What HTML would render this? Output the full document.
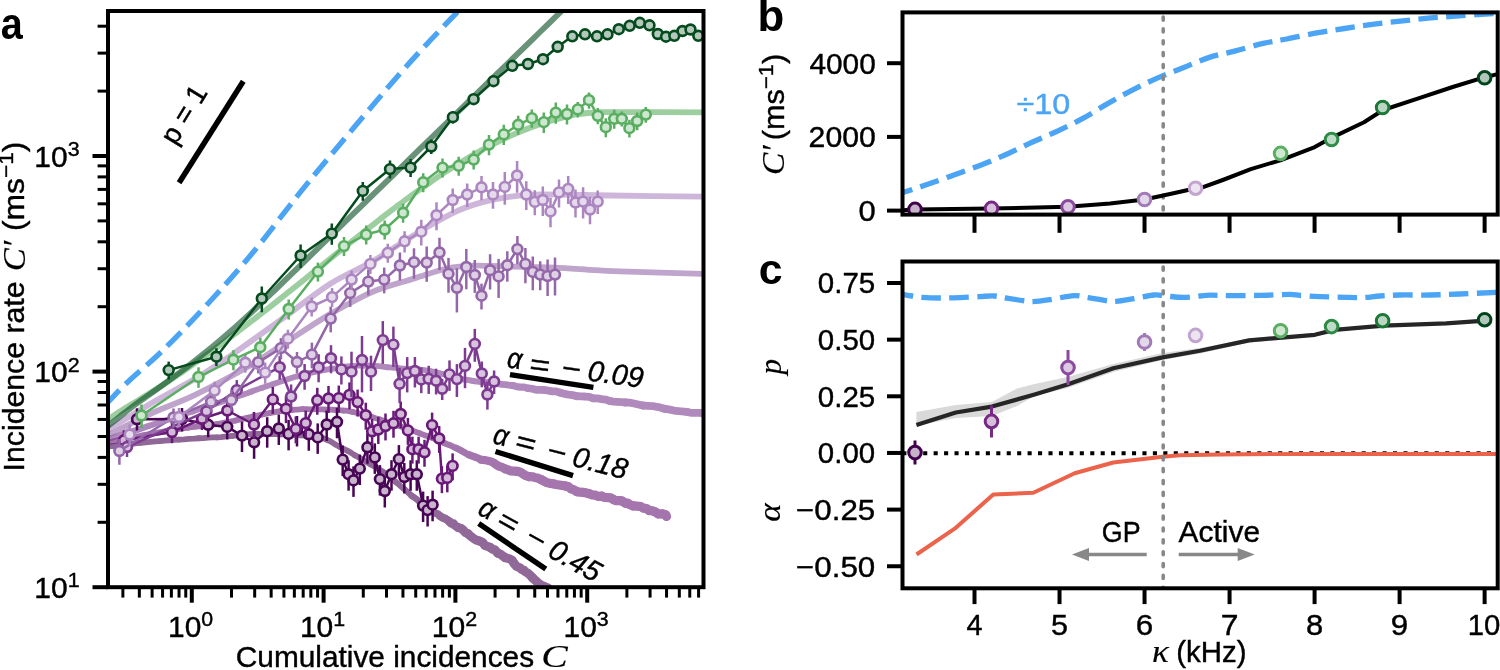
<!DOCTYPE html>
<html><head><meta charset="utf-8"><style>
html,body{margin:0;padding:0;background:#fff;}
svg{display:block;will-change:transform;}
text{stroke:#000;stroke-width:0.4px;}
</style></head><body>
<svg width="1500" height="670" viewBox="0 0 1500 670">
<rect width="1500" height="670" fill="#fff"/>
<clipPath id="clipa"><rect x="108.0" y="11.0" width="595.5" height="576.2"/></clipPath>
<g clip-path="url(#clipa)">
<path d="M108.00,402.00 C111.65,398.33 120.70,388.67 129.90,380.00 C139.10,371.33 150.02,362.92 163.20,350.00 C176.38,337.08 193.70,319.17 209.00,302.50 C224.30,285.83 238.33,270.17 255.00,250.00 C271.67,229.83 284.75,211.00 309.00,181.50 C333.25,152.00 375.62,101.42 400.50,73.00 C425.38,44.58 447.30,22.83 458.30,11.00 C469.30,-0.83 465.13,3.50 466.50,2.00" fill="none" stroke="#4ca4f5" stroke-width="5.33" stroke-dasharray="19.7 8.5" stroke-dashoffset="3"/>
<g opacity="0.6" stroke="#480555" fill="none" stroke-linecap="round" stroke-linejoin="round">
<path d="M108.00,446.50 L110.50,446.22 L113.61,445.99 L117.22,445.40 L121.29,444.90" stroke-width="5.80"/>
<path d="M121.29,444.90 L125.74,444.58 L130.45,444.08 L135.35,443.39 L140.37,442.83" stroke-width="5.80"/>
<path d="M140.37,442.83 L145.44,442.45 L150.45,441.90 L155.32,441.29 L160.00,441.04" stroke-width="5.80"/>
<path d="M160.00,441.04 L164.60,440.54 L169.34,440.25 L174.17,439.95 L179.05,439.60" stroke-width="5.80"/>
<path d="M179.05,439.60 L183.98,439.41 L188.90,438.95 L193.80,438.69 L198.64,438.27" stroke-width="5.80"/>
<path d="M198.64,438.27 L203.42,438.15 L208.06,437.73 L212.56,437.46 L216.91,437.28" stroke-width="5.80"/>
<path d="M216.91,437.28 L221.03,437.05 L224.94,436.52 L228.70,436.28 L232.33,435.98" stroke-width="5.80"/>
<path d="M232.33,435.98 L235.86,435.50 L239.37,435.21 L242.85,434.76 L246.38,434.38" stroke-width="5.80"/>
<path d="M246.38,434.38 L249.99,434.08 L253.72,433.90 L257.61,433.94 L261.70,433.89" stroke-width="5.80"/>
<path d="M261.70,433.89 L266.08,434.06 L270.77,434.20 L275.70,434.14 L280.79,434.27" stroke-width="5.80"/>
<path d="M280.79,434.27 L285.95,434.35 L291.11,434.68 L296.19,435.03 L301.11,435.40" stroke-width="5.80"/>
<path d="M301.11,435.40 L305.82,435.66 L310.19,436.17 L314.20,436.54 L317.70,437.22" stroke-width="5.80"/>
<path d="M317.70,437.22 L320.74,437.78 L323.40,438.31 L325.62,439.20 L327.55,440.04" stroke-width="5.80"/>
<path d="M327.55,440.04 L330.92,441.57 L333.72,443.42 L336.65,445.16 L339.99,447.03" stroke-width="5.80"/>
<path d="M339.99,447.03 L341.84,447.98 L343.68,449.03 L345.62,449.88 L347.54,450.81" stroke-width="5.80"/>
<path d="M347.54,450.81 L349.43,451.83 L351.27,452.94 L353.07,454.14 L354.90,455.29" stroke-width="5.80"/>
<path d="M354.90,455.29 L356.84,456.26 L358.65,457.44 L360.57,458.44 L362.50,459.43" stroke-width="5.80"/>
<path d="M362.50,459.43 L364.34,460.58 L366.17,461.82 L368.06,463.01 L370.04,464.05" stroke-width="5.80"/>
<path d="M370.04,464.05 L371.95,465.21 L373.96,466.20 L375.92,467.24 L377.71,468.52" stroke-width="5.80"/>
<path d="M377.71,468.52 L379.54,469.67 L381.41,470.69 L383.17,471.80 L384.78,473.03" stroke-width="5.80"/>
<path d="M384.78,473.03 L387.88,475.12 L390.55,477.22 L392.93,479.49 L395.52,481.69" stroke-width="5.80"/>
<path d="M395.52,481.69 L398.34,484.17 L399.91,485.52 L401.63,486.96 L403.55,488.47" stroke-width="5.84"/>
<path d="M403.55,488.47 L405.59,490.08 L407.58,491.98 L409.70,493.90 L411.85,495.93" stroke-width="6.04"/>
<path d="M411.85,495.93 L414.40,497.55 L416.88,499.32 L419.04,501.49 L421.52,503.23" stroke-width="6.45"/>
<path d="M421.52,503.23 L423.70,505.27 L426.17,506.81 L428.48,508.38 L430.63,510.14" stroke-width="6.99"/>
<path d="M430.63,510.14 L433.03,511.58 L435.40,513.12 L438.13,514.05 L440.16,516.11" stroke-width="7.59"/>
<path d="M440.16,516.11 L442.48,517.62 L445.06,518.57 L447.32,519.94 L449.37,521.48" stroke-width="8.16"/>
<path d="M449.37,521.48 L451.09,523.34 L453.67,523.54 L454.98,525.47 L458.12,527.57" stroke-width="8.60"/>
<path d="M458.12,527.57 L461.35,528.62 L463.62,530.37 L465.30,532.60 L467.96,533.65" stroke-width="8.93"/>
<path d="M467.96,533.65 L470.15,535.79 L472.83,537.85 L475.74,539.92 L479.35,541.01" stroke-width="9.00"/>
<path d="M479.35,541.01 L482.71,542.36 L484.82,545.43 L487.83,546.44 L490.39,547.51" stroke-width="9.00"/>
<path d="M490.39,547.51 L492.31,549.20 L494.73,549.62 L496.24,551.53 L497.87,553.16" stroke-width="9.00"/>
<path d="M497.87,553.16 L500.06,553.90 L501.79,555.27 L503.55,556.28 L505.04,557.68" stroke-width="9.00"/>
<path d="M505.04,557.68 L507.26,558.20 L509.68,558.92 L512.18,560.25 L514.02,563.37" stroke-width="9.00"/>
<path d="M514.02,563.37 L516.46,566.34 L520.18,567.98 L521.58,569.52 L523.68,570.13" stroke-width="9.00"/>
<path d="M523.68,570.13 L525.17,571.57 L526.95,572.56 L529.99,575.01 L532.57,577.88" stroke-width="9.00"/>
<path d="M532.57,577.88 L535.36,580.41 L538.16,582.90 L541.15,585.08 L544.52,586.65" stroke-width="9.00"/>
<path d="M544.52,586.65 L548.02,587.97 L550.72,590.71 L553.98,593.07 L556.19,593.43" stroke-width="9.00"/>
<path d="M556.19,593.43 L559.40,595.57 L562.62,596.94 L564.26,599.32 L565.00,600.00" stroke-width="9.00"/>
</g>
<g opacity="0.6" stroke="#691978" fill="none" stroke-linecap="round" stroke-linejoin="round">
<path d="M108.00,442.50 L111.13,441.76 L115.17,440.97 L119.92,439.94 L125.29,438.99" stroke-width="5.80"/>
<path d="M125.29,438.99 L131.09,437.83 L137.17,436.50 L143.41,435.18 L149.70,434.09" stroke-width="5.80"/>
<path d="M149.70,434.09 L155.82,432.84 L161.70,431.84 L167.14,430.88 L172.00,430.02" stroke-width="5.80"/>
<path d="M172.00,430.02 L176.40,429.39 L180.50,428.77 L184.38,428.23 L188.07,427.72" stroke-width="5.80"/>
<path d="M188.07,427.72 L191.63,427.24 L195.10,426.78 L198.55,426.43 L202.00,426.04" stroke-width="5.80"/>
<path d="M202.00,426.04 L205.53,425.72 L209.14,425.16 L212.91,424.60 L216.91,424.08" stroke-width="5.80"/>
<path d="M216.91,424.08 L221.15,423.32 L225.63,422.46 L230.30,421.53 L235.09,420.60" stroke-width="5.80"/>
<path d="M235.09,420.60 L239.89,419.42 L244.74,418.43 L249.48,417.24 L254.13,416.19" stroke-width="5.80"/>
<path d="M254.13,416.19 L258.61,415.30 L262.82,414.39 L266.74,413.62 L270.28,412.90" stroke-width="5.80"/>
<path d="M270.28,412.90 L273.43,412.31 L276.22,411.85 L278.73,411.48 L280.99,411.17" stroke-width="5.80"/>
<path d="M280.99,411.17 L283.06,410.84 L286.86,410.29 L290.64,410.05 L292.65,409.92" stroke-width="5.80"/>
<path d="M292.65,409.92 L294.82,409.73 L297.20,409.57 L299.78,409.33 L302.47,409.18" stroke-width="5.80"/>
<path d="M302.47,409.18 L305.25,409.06 L308.11,409.22 L311.00,409.30 L313.93,409.17" stroke-width="5.80"/>
<path d="M313.93,409.17 L316.85,409.29 L319.75,409.32 L322.61,409.46 L325.40,409.54" stroke-width="5.80"/>
<path d="M325.40,409.54 L328.11,409.62 L330.71,409.66 L333.15,409.76 L335.43,409.92" stroke-width="5.80"/>
<path d="M335.43,409.92 L337.58,410.13 L339.66,410.16 L341.69,410.31 L343.71,410.64" stroke-width="5.80"/>
<path d="M343.71,410.64 L345.79,410.71 L347.93,410.98 L350.16,411.45 L352.56,411.89" stroke-width="5.80"/>
<path d="M352.56,411.89 L355.14,412.52 L357.97,413.12 L361.06,413.89 L364.41,414.69" stroke-width="5.80"/>
<path d="M364.41,414.69 L367.94,415.69 L371.62,416.83 L375.38,418.12 L379.24,419.37" stroke-width="5.80"/>
<path d="M379.24,419.37 L383.15,420.58 L387.00,421.96 L390.83,423.24 L394.56,424.53" stroke-width="5.80"/>
<path d="M394.56,424.53 L398.19,425.62 L401.62,426.73 L404.85,427.89 L408.00,428.97" stroke-width="5.80"/>
<path d="M408.00,428.97 L411.07,429.98 L414.00,431.17 L416.90,432.32 L419.79,433.35" stroke-width="5.80"/>
<path d="M419.79,433.35 L422.64,434.48 L425.52,435.54 L428.43,436.56 L431.41,437.57" stroke-width="5.80"/>
<path d="M431.41,437.57 L434.36,438.77 L437.36,440.11 L440.46,441.37 L443.58,442.76" stroke-width="5.87"/>
<path d="M443.58,442.76 L446.80,444.06 L450.09,445.27 L453.28,446.79 L456.52,448.20" stroke-width="6.23"/>
<path d="M456.52,448.20 L459.70,449.75 L462.76,451.54 L465.86,453.21 L468.96,454.76" stroke-width="6.82"/>
<path d="M468.96,454.76 L472.16,456.00 L475.34,457.10 L478.44,458.22 L481.34,459.77" stroke-width="7.51"/>
<path d="M481.34,459.77 L484.67,460.09 L487.86,460.68 L490.94,461.47 L493.79,462.85" stroke-width="8.20"/>
<path d="M493.79,462.85 L496.40,464.87 L499.18,466.42 L502.20,467.26 L504.98,468.80" stroke-width="8.74"/>
<path d="M504.98,468.80 L507.97,469.78 L510.90,470.95 L514.18,471.14 L517.43,471.41" stroke-width="9.11"/>
<path d="M517.43,471.41 L520.51,472.15 L523.18,474.08 L525.96,475.68 L528.99,476.55" stroke-width="9.20"/>
<path d="M528.99,476.55 L532.25,476.72 L535.26,477.63 L538.33,478.34 L541.19,479.68" stroke-width="9.20"/>
<path d="M541.19,479.68 L544.01,481.17 L546.84,482.61 L549.88,483.41 L553.05,483.76" stroke-width="9.20"/>
<path d="M553.05,483.76 L556.13,484.42 L559.25,484.94 L562.37,485.44 L565.47,485.96" stroke-width="9.20"/>
<path d="M565.47,485.96 L568.49,486.77 L571.09,488.97 L574.06,489.92 L576.81,491.62" stroke-width="9.20"/>
<path d="M576.81,491.62 L579.88,492.16 L583.03,492.39 L586.14,492.83 L589.19,493.72" stroke-width="9.20"/>
<path d="M589.19,493.72 L592.22,494.84 L595.46,495.19 L598.48,496.42 L601.81,496.18" stroke-width="9.20"/>
<path d="M601.81,496.18 L604.76,497.47 L607.89,497.67 L610.92,497.92 L613.53,499.56" stroke-width="9.20"/>
<path d="M613.53,499.56 L616.13,500.67 L618.86,500.68 L621.46,500.59 L623.52,501.97" stroke-width="9.20"/>
<path d="M623.52,501.97 L625.44,503.35 L627.75,502.99 L629.43,504.47 L633.10,505.83" stroke-width="9.20"/>
<path d="M633.10,505.83 L637.00,506.20 L640.99,506.61 L642.74,507.89 L644.87,508.37" stroke-width="9.20"/>
<path d="M644.87,508.37 L647.14,508.85 L649.05,510.67 L651.64,510.67 L654.00,511.35" stroke-width="9.20"/>
<path d="M654.00,511.35 L656.16,512.45 L658.05,514.06 L660.47,513.81 L662.57,513.91" stroke-width="9.20"/>
<path d="M662.57,513.91 L665.81,514.72 L666.50,516.40" stroke-width="9.20"/>
</g>
<g opacity="0.6" stroke="#7d3c91" fill="none" stroke-linecap="round" stroke-linejoin="round">
<path d="M108.00,439.00 L111.13,438.01 L115.04,436.67 L119.69,435.22 L124.91,433.63" stroke-width="5.80"/>
<path d="M124.91,433.63 L130.51,431.68 L136.48,429.76 L142.64,427.75 L148.87,425.71" stroke-width="5.80"/>
<path d="M148.87,425.71 L155.11,423.80 L161.16,421.92 L166.91,420.07 L172.22,418.26" stroke-width="5.80"/>
<path d="M172.22,418.26 L177.36,416.63 L182.50,414.81 L187.71,413.11 L192.90,411.40" stroke-width="5.80"/>
<path d="M192.90,411.40 L198.03,409.62 L203.12,408.00 L208.07,406.35 L212.88,404.75" stroke-width="5.80"/>
<path d="M212.88,404.75 L217.50,403.16 L221.94,401.77 L226.09,400.31 L229.95,398.95" stroke-width="5.80"/>
<path d="M229.95,398.95 L233.54,397.88 L236.73,396.75 L239.67,395.77 L242.37,394.87" stroke-width="5.80"/>
<path d="M242.37,394.87 L244.89,394.01 L247.29,393.21 L249.55,392.27 L251.82,391.44" stroke-width="5.80"/>
<path d="M251.82,391.44 L254.09,390.55 L256.50,389.79 L258.99,388.87 L261.67,387.92" stroke-width="5.80"/>
<path d="M261.67,387.92 L264.50,386.93 L267.41,386.02 L270.35,385.00 L273.35,384.04" stroke-width="5.80"/>
<path d="M273.35,384.04 L276.34,383.00 L279.35,381.97 L282.38,380.96 L285.38,379.91" stroke-width="5.80"/>
<path d="M285.38,379.91 L288.37,378.92 L291.34,377.95 L294.27,377.03 L297.21,376.33" stroke-width="5.80"/>
<path d="M297.21,376.33 L300.07,375.56 L302.90,374.79 L305.72,374.09 L308.50,373.32" stroke-width="5.80"/>
<path d="M308.50,373.32 L311.31,372.76 L314.08,372.11 L316.83,371.46 L319.61,370.94" stroke-width="5.80"/>
<path d="M319.61,370.94 L322.37,370.38 L325.14,369.90 L327.90,369.32 L330.71,368.97" stroke-width="5.80"/>
<path d="M330.71,368.97 L333.51,368.58 L336.29,368.03 L339.09,367.63 L341.88,367.15" stroke-width="5.80"/>
<path d="M341.88,367.15 L344.67,366.74 L347.48,366.42 L350.28,366.10 L353.10,366.02" stroke-width="5.80"/>
<path d="M353.10,366.02 L355.90,365.82 L358.70,365.67 L361.50,365.61 L364.30,365.48" stroke-width="5.80"/>
<path d="M364.30,365.48 L367.11,365.50 L369.92,365.63 L372.73,365.79 L375.56,365.93" stroke-width="5.80"/>
<path d="M375.56,365.93 L378.39,366.09 L381.19,366.48 L383.99,366.87 L386.79,367.24" stroke-width="5.80"/>
<path d="M386.79,367.24 L389.60,367.40 L392.39,367.63 L395.16,367.86 L397.90,368.22" stroke-width="5.80"/>
<path d="M397.90,368.22 L400.63,368.40 L403.33,368.65 L406.03,368.85 L408.71,368.98" stroke-width="5.80"/>
<path d="M408.71,368.98 L411.38,369.06 L414.04,369.35 L416.70,369.52 L419.35,369.76" stroke-width="5.80"/>
<path d="M419.35,369.76 L422.01,369.89 L424.67,370.22 L427.32,370.63 L430.00,371.00" stroke-width="5.80"/>
<path d="M430.00,371.00 L432.67,371.48 L435.29,372.14 L437.92,372.76 L440.54,373.48" stroke-width="5.80"/>
<path d="M440.54,373.48 L443.17,374.17 L445.83,374.83 L448.45,375.64 L451.11,376.44" stroke-width="5.80"/>
<path d="M451.11,376.44 L453.78,377.22 L456.52,377.88 L459.27,378.59 L462.08,379.22" stroke-width="5.82"/>
<path d="M462.08,379.22 L464.94,379.58 L467.79,379.95 L470.61,380.52 L473.45,381.03" stroke-width="5.94"/>
<path d="M473.45,381.03 L476.33,381.47 L479.29,381.61 L482.23,382.18 L485.29,382.29" stroke-width="6.15"/>
<path d="M485.29,382.29 L488.41,382.50 L491.57,383.06 L494.82,383.64 L498.24,383.74" stroke-width="6.44"/>
<path d="M498.24,383.74 L501.68,384.47 L505.30,384.66 L508.97,385.20 L512.74,385.60" stroke-width="6.81"/>
<path d="M512.74,385.60 L516.50,386.57 L520.38,387.08 L524.37,387.18 L528.24,388.34" stroke-width="7.21"/>
<path d="M528.24,388.34 L532.25,388.75 L536.16,389.85 L540.24,389.84 L544.29,389.99" stroke-width="7.56"/>
<path d="M544.29,389.99 L548.29,390.57 L552.30,391.32 L556.44,391.49 L560.46,392.67" stroke-width="7.77"/>
<path d="M560.46,392.67 L564.49,393.88 L568.62,394.57 L572.78,395.12 L576.87,396.19" stroke-width="7.80"/>
<path d="M576.87,396.19 L581.08,396.44 L585.32,396.51 L589.48,396.97 L593.48,398.35" stroke-width="7.80"/>
<path d="M593.48,398.35 L597.63,398.39 L601.63,399.04 L605.62,399.54 L609.45,400.88" stroke-width="7.80"/>
<path d="M609.45,400.88 L613.39,401.54 L617.39,401.89 L621.45,402.16 L625.55,402.50" stroke-width="7.80"/>
<path d="M625.55,402.50 L629.74,402.70 L633.95,403.51 L638.25,404.51 L642.68,405.51" stroke-width="7.80"/>
<path d="M642.68,405.51 L647.55,405.89 L652.89,406.21 L658.48,407.02 L664.17,408.67" stroke-width="7.80"/>
<path d="M664.17,408.67 L670.02,409.67 L675.79,410.94 L681.49,411.43 L686.89,411.90" stroke-width="7.80"/>
<path d="M686.89,411.90 L691.79,412.94 L696.30,412.78 L700.09,412.89 L703.08,413.02" stroke-width="7.80"/>
<path d="M703.08,413.02 L703.00,413.60" stroke-width="7.80"/>
</g>
<path d="M108.00,435.50 C115.00,431.92 135.57,420.72 150.00,414.00 C164.43,407.28 178.22,403.10 194.60,395.20 C210.98,387.30 233.23,375.30 248.30,366.60 C263.37,357.90 272.25,351.23 285.00,343.00 C297.75,334.77 313.20,324.25 324.80,317.20 C336.40,310.15 345.90,305.23 354.60,300.70 C363.30,296.17 367.05,293.72 377.00,290.00 C386.95,286.28 402.65,281.98 414.30,278.40 C425.95,274.82 437.00,270.63 446.90,268.50 C456.80,266.37 462.52,265.92 473.70,265.60 C484.88,265.28 500.57,266.27 514.00,266.60 C527.43,266.93 540.87,267.00 554.30,267.60 C567.73,268.20 583.65,269.58 594.60,270.20 C605.55,270.82 601.93,270.70 620.00,271.30 C638.07,271.90 689.17,273.38 703.00,273.80" fill="none" stroke="#9467a9" stroke-opacity="0.6" stroke-width="5.8" stroke-linecap="round"/>
<path d="M108.00,430.00 C115.00,425.67 135.57,412.50 150.00,404.00 C164.43,395.50 181.20,387.03 194.60,379.00 C208.00,370.97 216.08,365.63 230.40,355.80 C244.72,345.97 263.90,331.97 280.50,320.00 C297.10,308.03 314.78,293.70 330.00,284.00 C345.22,274.30 359.62,268.82 371.80,261.80 C383.98,254.78 393.40,247.95 403.10,241.90 C412.80,235.85 420.83,230.72 430.00,225.50 C439.17,220.28 449.18,214.53 458.10,210.60 C467.02,206.67 475.05,204.20 483.50,201.90 C491.95,199.60 500.35,198.02 508.80,196.80 C517.25,195.58 523.62,194.93 534.20,194.60 C544.78,194.27 559.62,194.65 572.30,194.80 C584.98,194.95 588.52,195.20 610.30,195.50 C632.08,195.80 687.55,196.42 703.00,196.60" fill="none" stroke="#ac86c0" stroke-opacity="0.6" stroke-width="5.8" stroke-linecap="round"/>
<path d="M108.00,419.50 C110.00,418.17 116.00,414.08 120.00,411.50 C124.00,408.92 128.00,406.45 132.00,404.00 C136.00,401.55 140.00,399.25 144.00,396.80 C148.00,394.35 152.00,391.83 156.00,389.30 C160.00,386.77 164.00,384.23 168.00,381.60 C172.00,378.97 176.00,376.23 180.00,373.50 C184.00,370.77 188.00,368.00 192.00,365.20 C196.00,362.40 200.00,359.57 204.00,356.70 C208.00,353.83 212.00,350.93 216.00,348.00 C220.00,345.07 224.00,342.10 228.00,339.10 C232.00,336.10 236.00,333.05 240.00,330.00 C244.00,326.95 248.00,323.88 252.00,320.80 C256.00,317.72 260.00,314.62 264.00,311.50 C268.00,308.38 272.00,305.27 276.00,302.10 C280.00,298.93 284.00,295.68 288.00,292.50 C292.00,289.32 296.00,286.20 300.00,283.00 C304.00,279.80 308.00,276.52 312.00,273.30 C316.00,270.08 320.00,266.90 324.00,263.70 C328.00,260.50 332.00,257.30 336.00,254.10 C340.00,250.90 344.00,247.70 348.00,244.50 C352.00,241.30 356.00,238.07 360.00,234.90 C364.00,231.73 368.00,228.63 372.00,225.50 C376.00,222.37 380.00,219.18 384.00,216.10 C388.00,213.02 392.00,210.02 396.00,207.00 C400.00,203.98 404.00,200.93 408.00,198.00 C412.00,195.07 416.00,192.23 420.00,189.40 C424.00,186.57 428.00,183.75 432.00,181.00 C436.00,178.25 440.00,175.52 444.00,172.90 C448.00,170.28 452.00,167.78 456.00,165.30 C460.00,162.82 464.00,160.37 468.00,158.00 C472.00,155.63 476.00,153.32 480.00,151.10 C484.00,148.88 488.00,146.75 492.00,144.70 C496.00,142.65 500.00,140.68 504.00,138.80 C508.00,136.92 512.00,135.12 516.00,133.40 C520.00,131.68 524.00,130.03 528.00,128.50 C532.00,126.97 536.00,125.55 540.00,124.20 C544.00,122.85 548.00,121.58 552.00,120.40 C556.00,119.22 560.00,118.08 564.00,117.10 C568.00,116.12 572.00,115.18 576.00,114.50 C580.00,113.82 584.00,113.37 588.00,113.00 C592.00,112.63 594.67,112.45 600.00,112.30 C605.33,112.15 602.83,112.10 620.00,112.10 C637.17,112.10 689.17,112.27 703.00,112.30" fill="none" stroke="#5aae61" stroke-opacity="0.6" stroke-width="5.8" stroke-linecap="round"/>
<path d="M108.00,426.00 C110.00,424.42 116.00,419.67 120.00,416.50 C124.00,413.33 128.00,410.03 132.00,407.00 C136.00,403.97 140.00,401.15 144.00,398.30 C148.00,395.45 152.00,392.75 156.00,389.90 C160.00,387.05 164.00,384.13 168.00,381.20 C172.00,378.27 176.00,375.32 180.00,372.30 C184.00,369.28 188.00,366.22 192.00,363.10 C196.00,359.98 200.00,356.82 204.00,353.60 C208.00,350.38 212.00,347.15 216.00,343.80 C220.00,340.45 224.00,337.00 228.00,333.50 C232.00,330.00 236.00,326.42 240.00,322.80 C244.00,319.18 248.00,315.52 252.00,311.80 C256.00,308.08 260.00,304.28 264.00,300.50 C268.00,296.72 272.00,292.95 276.00,289.10 C280.00,285.25 284.00,281.28 288.00,277.40 C292.00,273.52 294.00,271.63 300.00,265.80 C306.00,259.97 316.00,250.20 324.00,242.40 C332.00,234.60 340.00,226.78 348.00,219.00 C356.00,211.22 364.00,203.48 372.00,195.70 C380.00,187.92 388.00,180.10 396.00,172.30 C404.00,164.50 412.00,156.70 420.00,148.90 C428.00,141.10 436.00,133.30 444.00,125.50 C452.00,117.70 460.00,109.90 468.00,102.10 C476.00,94.30 484.00,86.48 492.00,78.70 C500.00,70.92 508.00,63.18 516.00,55.40 C524.00,47.62 532.00,39.80 540.00,32.00 C548.00,24.20 559.00,13.47 564.00,8.60 C569.00,3.73 569.00,3.77 570.00,2.80" fill="none" stroke="#054b1e" stroke-opacity="0.6" stroke-width="5.8" stroke-linecap="round"/>
<polyline points="137.00,419.30 182.00,419.00 208.20,424.80 227.20,426.90 242.00,435.60 254.10,442.30 267.20,431.20 278.80,428.50 288.60,433.90 297.00,430.00 308.80,434.30 317.70,437.40 326.70,424.50 337.00,421.80 342.70,459.60 348.60,474.20 353.50,480.40 359.80,468.60 367.40,447.30 374.80,457.40 379.90,479.10 384.80,491.00 391.50,474.20 398.90,459.10 404.30,477.00 410.60,474.30 416.80,474.30 423.10,505.60 427.60,510.10 432.60,504.70" fill="none" stroke="#480555" stroke-width="2.5" stroke-linejoin="round" stroke-linecap="butt" />
<line x1="137.00" y1="408.30" x2="137.00" y2="431.77" stroke="#480555" stroke-width="2.5" />
<line x1="182.00" y1="408.00" x2="182.00" y2="431.47" stroke="#480555" stroke-width="2.5" />
<line x1="208.20" y1="413.80" x2="208.20" y2="437.27" stroke="#480555" stroke-width="2.5" />
<line x1="227.20" y1="415.90" x2="227.20" y2="439.37" stroke="#480555" stroke-width="2.5" />
<line x1="242.00" y1="421.60" x2="242.00" y2="452.07" stroke="#480555" stroke-width="2.5" />
<line x1="254.10" y1="428.30" x2="254.10" y2="458.77" stroke="#480555" stroke-width="2.5" />
<line x1="267.20" y1="417.20" x2="267.20" y2="447.67" stroke="#480555" stroke-width="2.5" />
<line x1="278.80" y1="414.50" x2="278.80" y2="444.97" stroke="#480555" stroke-width="2.5" />
<line x1="288.60" y1="419.90" x2="288.60" y2="450.37" stroke="#480555" stroke-width="2.5" />
<line x1="297.00" y1="416.00" x2="297.00" y2="446.47" stroke="#480555" stroke-width="2.5" />
<line x1="308.80" y1="420.30" x2="308.80" y2="450.77" stroke="#480555" stroke-width="2.5" />
<line x1="317.70" y1="423.40" x2="317.70" y2="453.87" stroke="#480555" stroke-width="2.5" />
<line x1="326.70" y1="410.50" x2="326.70" y2="440.97" stroke="#480555" stroke-width="2.5" />
<line x1="337.00" y1="407.80" x2="337.00" y2="438.27" stroke="#480555" stroke-width="2.5" />
<line x1="342.70" y1="445.60" x2="342.70" y2="476.07" stroke="#480555" stroke-width="2.5" />
<line x1="348.60" y1="460.20" x2="348.60" y2="490.67" stroke="#480555" stroke-width="2.5" />
<line x1="353.50" y1="466.40" x2="353.50" y2="496.87" stroke="#480555" stroke-width="2.5" />
<line x1="359.80" y1="454.60" x2="359.80" y2="485.07" stroke="#480555" stroke-width="2.5" />
<line x1="367.40" y1="433.30" x2="367.40" y2="463.77" stroke="#480555" stroke-width="2.5" />
<line x1="374.80" y1="443.40" x2="374.80" y2="473.87" stroke="#480555" stroke-width="2.5" />
<line x1="379.90" y1="465.10" x2="379.90" y2="495.57" stroke="#480555" stroke-width="2.5" />
<line x1="384.80" y1="477.00" x2="384.80" y2="507.47" stroke="#480555" stroke-width="2.5" />
<line x1="391.50" y1="460.20" x2="391.50" y2="490.67" stroke="#480555" stroke-width="2.5" />
<line x1="398.90" y1="445.10" x2="398.90" y2="475.57" stroke="#480555" stroke-width="2.5" />
<line x1="404.30" y1="463.00" x2="404.30" y2="493.47" stroke="#480555" stroke-width="2.5" />
<line x1="410.60" y1="460.30" x2="410.60" y2="490.77" stroke="#480555" stroke-width="2.5" />
<line x1="416.80" y1="460.30" x2="416.80" y2="490.77" stroke="#480555" stroke-width="2.5" />
<line x1="423.10" y1="491.60" x2="423.10" y2="522.07" stroke="#480555" stroke-width="2.5" />
<line x1="427.60" y1="496.10" x2="427.60" y2="526.57" stroke="#480555" stroke-width="2.5" />
<line x1="432.60" y1="490.70" x2="432.60" y2="521.17" stroke="#480555" stroke-width="2.5" />
<circle cx="137.00" cy="419.30" r="4.9" fill="#c8b4cc" stroke="#480555" stroke-width="2.65"/>
<circle cx="182.00" cy="419.00" r="4.9" fill="#c8b4cc" stroke="#480555" stroke-width="2.65"/>
<circle cx="208.20" cy="424.80" r="4.9" fill="#c8b4cc" stroke="#480555" stroke-width="2.65"/>
<circle cx="227.20" cy="426.90" r="4.9" fill="#c8b4cc" stroke="#480555" stroke-width="2.65"/>
<circle cx="242.00" cy="435.60" r="4.9" fill="#c8b4cc" stroke="#480555" stroke-width="2.65"/>
<circle cx="254.10" cy="442.30" r="4.9" fill="#c8b4cc" stroke="#480555" stroke-width="2.65"/>
<circle cx="267.20" cy="431.20" r="4.9" fill="#c8b4cc" stroke="#480555" stroke-width="2.65"/>
<circle cx="278.80" cy="428.50" r="4.9" fill="#c8b4cc" stroke="#480555" stroke-width="2.65"/>
<circle cx="288.60" cy="433.90" r="4.9" fill="#c8b4cc" stroke="#480555" stroke-width="2.65"/>
<circle cx="297.00" cy="430.00" r="4.9" fill="#c8b4cc" stroke="#480555" stroke-width="2.65"/>
<circle cx="308.80" cy="434.30" r="4.9" fill="#c8b4cc" stroke="#480555" stroke-width="2.65"/>
<circle cx="317.70" cy="437.40" r="4.9" fill="#c8b4cc" stroke="#480555" stroke-width="2.65"/>
<circle cx="326.70" cy="424.50" r="4.9" fill="#c8b4cc" stroke="#480555" stroke-width="2.65"/>
<circle cx="337.00" cy="421.80" r="4.9" fill="#c8b4cc" stroke="#480555" stroke-width="2.65"/>
<circle cx="342.70" cy="459.60" r="4.9" fill="#c8b4cc" stroke="#480555" stroke-width="2.65"/>
<circle cx="348.60" cy="474.20" r="4.9" fill="#c8b4cc" stroke="#480555" stroke-width="2.65"/>
<circle cx="353.50" cy="480.40" r="4.9" fill="#c8b4cc" stroke="#480555" stroke-width="2.65"/>
<circle cx="359.80" cy="468.60" r="4.9" fill="#c8b4cc" stroke="#480555" stroke-width="2.65"/>
<circle cx="367.40" cy="447.30" r="4.9" fill="#c8b4cc" stroke="#480555" stroke-width="2.65"/>
<circle cx="374.80" cy="457.40" r="4.9" fill="#c8b4cc" stroke="#480555" stroke-width="2.65"/>
<circle cx="379.90" cy="479.10" r="4.9" fill="#c8b4cc" stroke="#480555" stroke-width="2.65"/>
<circle cx="384.80" cy="491.00" r="4.9" fill="#c8b4cc" stroke="#480555" stroke-width="2.65"/>
<circle cx="391.50" cy="474.20" r="4.9" fill="#c8b4cc" stroke="#480555" stroke-width="2.65"/>
<circle cx="398.90" cy="459.10" r="4.9" fill="#c8b4cc" stroke="#480555" stroke-width="2.65"/>
<circle cx="404.30" cy="477.00" r="4.9" fill="#c8b4cc" stroke="#480555" stroke-width="2.65"/>
<circle cx="410.60" cy="474.30" r="4.9" fill="#c8b4cc" stroke="#480555" stroke-width="2.65"/>
<circle cx="416.80" cy="474.30" r="4.9" fill="#c8b4cc" stroke="#480555" stroke-width="2.65"/>
<circle cx="423.10" cy="505.60" r="4.9" fill="#c8b4cc" stroke="#480555" stroke-width="2.65"/>
<circle cx="427.60" cy="510.10" r="4.9" fill="#c8b4cc" stroke="#480555" stroke-width="2.65"/>
<circle cx="432.60" cy="504.70" r="4.9" fill="#c8b4cc" stroke="#480555" stroke-width="2.65"/>
<polyline points="123.90,440.30 172.00,432.00 202.00,418.80 227.30,410.50 254.00,424.50 272.80,399.40 286.00,408.70 295.80,428.90 305.70,423.10 317.30,400.30 328.50,398.50 338.80,398.10 349.50,394.90 357.60,402.10 365.80,415.20 372.10,431.30 378.30,429.50 385.50,426.00 393.50,423.30 400.70,414.00 407.90,430.40 412.40,449.20 418.60,449.20 424.50,452.30 432.10,425.10 439.20,438.50 441.90,478.70 447.30,477.90 452.60,465.90" fill="none" stroke="#691978" stroke-width="2.5" stroke-linejoin="round" stroke-linecap="butt" />
<line x1="123.90" y1="430.30" x2="123.90" y2="451.50" stroke="#691978" stroke-width="2.5" />
<line x1="172.00" y1="422.00" x2="172.00" y2="443.20" stroke="#691978" stroke-width="2.5" />
<line x1="202.00" y1="408.80" x2="202.00" y2="430.00" stroke="#691978" stroke-width="2.5" />
<line x1="227.30" y1="400.50" x2="227.30" y2="421.70" stroke="#691978" stroke-width="2.5" />
<line x1="254.00" y1="412.00" x2="254.00" y2="438.93" stroke="#691978" stroke-width="2.5" />
<line x1="272.80" y1="386.90" x2="272.80" y2="413.83" stroke="#691978" stroke-width="2.5" />
<line x1="286.00" y1="396.20" x2="286.00" y2="423.13" stroke="#691978" stroke-width="2.5" />
<line x1="295.80" y1="416.40" x2="295.80" y2="443.33" stroke="#691978" stroke-width="2.5" />
<line x1="305.70" y1="410.60" x2="305.70" y2="437.53" stroke="#691978" stroke-width="2.5" />
<line x1="317.30" y1="387.80" x2="317.30" y2="414.73" stroke="#691978" stroke-width="2.5" />
<line x1="328.50" y1="386.00" x2="328.50" y2="412.93" stroke="#691978" stroke-width="2.5" />
<line x1="338.80" y1="385.60" x2="338.80" y2="412.53" stroke="#691978" stroke-width="2.5" />
<line x1="349.50" y1="382.40" x2="349.50" y2="409.33" stroke="#691978" stroke-width="2.5" />
<line x1="357.60" y1="389.60" x2="357.60" y2="416.53" stroke="#691978" stroke-width="2.5" />
<line x1="365.80" y1="402.70" x2="365.80" y2="429.63" stroke="#691978" stroke-width="2.5" />
<line x1="372.10" y1="418.80" x2="372.10" y2="445.73" stroke="#691978" stroke-width="2.5" />
<line x1="378.30" y1="417.00" x2="378.30" y2="443.93" stroke="#691978" stroke-width="2.5" />
<line x1="385.50" y1="413.50" x2="385.50" y2="440.43" stroke="#691978" stroke-width="2.5" />
<line x1="393.50" y1="410.80" x2="393.50" y2="437.73" stroke="#691978" stroke-width="2.5" />
<line x1="400.70" y1="401.50" x2="400.70" y2="428.43" stroke="#691978" stroke-width="2.5" />
<line x1="407.90" y1="417.90" x2="407.90" y2="444.83" stroke="#691978" stroke-width="2.5" />
<line x1="412.40" y1="436.70" x2="412.40" y2="463.63" stroke="#691978" stroke-width="2.5" />
<line x1="418.60" y1="436.70" x2="418.60" y2="463.63" stroke="#691978" stroke-width="2.5" />
<line x1="424.50" y1="439.80" x2="424.50" y2="466.73" stroke="#691978" stroke-width="2.5" />
<line x1="432.10" y1="412.60" x2="432.10" y2="439.53" stroke="#691978" stroke-width="2.5" />
<line x1="439.20" y1="426.00" x2="439.20" y2="452.93" stroke="#691978" stroke-width="2.5" />
<line x1="441.90" y1="466.20" x2="441.90" y2="493.13" stroke="#691978" stroke-width="2.5" />
<line x1="447.30" y1="465.40" x2="447.30" y2="492.33" stroke="#691978" stroke-width="2.5" />
<line x1="452.60" y1="453.40" x2="452.60" y2="480.33" stroke="#691978" stroke-width="2.5" />
<circle cx="123.90" cy="440.30" r="4.9" fill="#d2bad6" stroke="#691978" stroke-width="2.65"/>
<circle cx="172.00" cy="432.00" r="4.9" fill="#d2bad6" stroke="#691978" stroke-width="2.65"/>
<circle cx="202.00" cy="418.80" r="4.9" fill="#d2bad6" stroke="#691978" stroke-width="2.65"/>
<circle cx="227.30" cy="410.50" r="4.9" fill="#d2bad6" stroke="#691978" stroke-width="2.65"/>
<circle cx="254.00" cy="424.50" r="4.9" fill="#d2bad6" stroke="#691978" stroke-width="2.65"/>
<circle cx="272.80" cy="399.40" r="4.9" fill="#d2bad6" stroke="#691978" stroke-width="2.65"/>
<circle cx="286.00" cy="408.70" r="4.9" fill="#d2bad6" stroke="#691978" stroke-width="2.65"/>
<circle cx="295.80" cy="428.90" r="4.9" fill="#d2bad6" stroke="#691978" stroke-width="2.65"/>
<circle cx="305.70" cy="423.10" r="4.9" fill="#d2bad6" stroke="#691978" stroke-width="2.65"/>
<circle cx="317.30" cy="400.30" r="4.9" fill="#d2bad6" stroke="#691978" stroke-width="2.65"/>
<circle cx="328.50" cy="398.50" r="4.9" fill="#d2bad6" stroke="#691978" stroke-width="2.65"/>
<circle cx="338.80" cy="398.10" r="4.9" fill="#d2bad6" stroke="#691978" stroke-width="2.65"/>
<circle cx="349.50" cy="394.90" r="4.9" fill="#d2bad6" stroke="#691978" stroke-width="2.65"/>
<circle cx="357.60" cy="402.10" r="4.9" fill="#d2bad6" stroke="#691978" stroke-width="2.65"/>
<circle cx="365.80" cy="415.20" r="4.9" fill="#d2bad6" stroke="#691978" stroke-width="2.65"/>
<circle cx="372.10" cy="431.30" r="4.9" fill="#d2bad6" stroke="#691978" stroke-width="2.65"/>
<circle cx="378.30" cy="429.50" r="4.9" fill="#d2bad6" stroke="#691978" stroke-width="2.65"/>
<circle cx="385.50" cy="426.00" r="4.9" fill="#d2bad6" stroke="#691978" stroke-width="2.65"/>
<circle cx="393.50" cy="423.30" r="4.9" fill="#d2bad6" stroke="#691978" stroke-width="2.65"/>
<circle cx="400.70" cy="414.00" r="4.9" fill="#d2bad6" stroke="#691978" stroke-width="2.65"/>
<circle cx="407.90" cy="430.40" r="4.9" fill="#d2bad6" stroke="#691978" stroke-width="2.65"/>
<circle cx="412.40" cy="449.20" r="4.9" fill="#d2bad6" stroke="#691978" stroke-width="2.65"/>
<circle cx="418.60" cy="449.20" r="4.9" fill="#d2bad6" stroke="#691978" stroke-width="2.65"/>
<circle cx="424.50" cy="452.30" r="4.9" fill="#d2bad6" stroke="#691978" stroke-width="2.65"/>
<circle cx="432.10" cy="425.10" r="4.9" fill="#d2bad6" stroke="#691978" stroke-width="2.65"/>
<circle cx="439.20" cy="438.50" r="4.9" fill="#d2bad6" stroke="#691978" stroke-width="2.65"/>
<circle cx="441.90" cy="478.70" r="4.9" fill="#d2bad6" stroke="#691978" stroke-width="2.65"/>
<circle cx="447.30" cy="477.90" r="4.9" fill="#d2bad6" stroke="#691978" stroke-width="2.65"/>
<circle cx="452.60" cy="465.90" r="4.9" fill="#d2bad6" stroke="#691978" stroke-width="2.65"/>
<polyline points="127.00,447.00 206.50,411.30 236.80,390.10 279.70,367.20 291.10,396.50 304.60,376.00 318.60,367.20 331.00,358.20 341.40,369.40 351.50,371.70 362.00,360.00 371.00,371.70 382.80,340.10 393.40,344.60 399.60,383.80 407.20,373.10 414.90,371.00 421.30,379.40 428.70,378.80 436.10,380.70 442.20,388.80 449.50,374.40 456.90,379.10 465.00,365.90 474.80,343.90 481.80,373.50 487.40,394.50 494.10,381.50" fill="none" stroke="#7d3c91" stroke-width="2.5" stroke-linejoin="round" stroke-linecap="butt" />
<line x1="127.00" y1="438.00" x2="127.00" y2="456.96" stroke="#7d3c91" stroke-width="2.5" />
<line x1="206.50" y1="401.30" x2="206.50" y2="422.50" stroke="#7d3c91" stroke-width="2.5" />
<line x1="236.80" y1="380.10" x2="236.80" y2="401.30" stroke="#7d3c91" stroke-width="2.5" />
<line x1="279.70" y1="356.20" x2="279.70" y2="379.67" stroke="#7d3c91" stroke-width="2.5" />
<line x1="291.10" y1="384.50" x2="291.10" y2="410.27" stroke="#7d3c91" stroke-width="2.5" />
<line x1="304.60" y1="364.00" x2="304.60" y2="389.77" stroke="#7d3c91" stroke-width="2.5" />
<line x1="318.60" y1="354.20" x2="318.60" y2="382.30" stroke="#7d3c91" stroke-width="2.5" />
<line x1="331.00" y1="345.20" x2="331.00" y2="373.30" stroke="#7d3c91" stroke-width="2.5" />
<line x1="341.40" y1="356.40" x2="341.40" y2="384.50" stroke="#7d3c91" stroke-width="2.5" />
<line x1="351.50" y1="351.70" x2="351.50" y2="397.17" stroke="#7d3c91" stroke-width="2.5" />
<line x1="362.00" y1="336.00" x2="362.00" y2="392.35" stroke="#7d3c91" stroke-width="2.5" />
<line x1="371.00" y1="355.70" x2="371.00" y2="391.01" stroke="#7d3c91" stroke-width="2.5" />
<line x1="382.80" y1="321.10" x2="382.80" y2="363.96" stroke="#7d3c91" stroke-width="2.5" />
<line x1="393.40" y1="326.60" x2="393.40" y2="366.90" stroke="#7d3c91" stroke-width="2.5" />
<line x1="399.60" y1="367.80" x2="399.60" y2="403.11" stroke="#7d3c91" stroke-width="2.5" />
<line x1="407.20" y1="357.10" x2="407.20" y2="392.41" stroke="#7d3c91" stroke-width="2.5" />
<line x1="414.90" y1="357.00" x2="414.90" y2="387.47" stroke="#7d3c91" stroke-width="2.5" />
<line x1="421.30" y1="367.40" x2="421.30" y2="393.17" stroke="#7d3c91" stroke-width="2.5" />
<line x1="428.70" y1="365.80" x2="428.70" y2="393.90" stroke="#7d3c91" stroke-width="2.5" />
<line x1="436.10" y1="368.70" x2="436.10" y2="394.47" stroke="#7d3c91" stroke-width="2.5" />
<line x1="442.20" y1="378.80" x2="442.20" y2="400.00" stroke="#7d3c91" stroke-width="2.5" />
<line x1="449.50" y1="360.40" x2="449.50" y2="390.87" stroke="#7d3c91" stroke-width="2.5" />
<line x1="456.90" y1="364.10" x2="456.90" y2="396.97" stroke="#7d3c91" stroke-width="2.5" />
<line x1="465.00" y1="347.90" x2="465.00" y2="388.20" stroke="#7d3c91" stroke-width="2.5" />
<line x1="474.80" y1="328.90" x2="474.80" y2="361.77" stroke="#7d3c91" stroke-width="2.5" />
<line x1="481.80" y1="361.50" x2="481.80" y2="387.27" stroke="#7d3c91" stroke-width="2.5" />
<line x1="487.40" y1="381.50" x2="487.40" y2="409.60" stroke="#7d3c91" stroke-width="2.5" />
<line x1="494.10" y1="370.50" x2="494.10" y2="393.97" stroke="#7d3c91" stroke-width="2.5" />
<circle cx="127.00" cy="447.00" r="4.9" fill="#d8c4de" stroke="#7d3c91" stroke-width="2.65"/>
<circle cx="206.50" cy="411.30" r="4.9" fill="#d8c4de" stroke="#7d3c91" stroke-width="2.65"/>
<circle cx="236.80" cy="390.10" r="4.9" fill="#d8c4de" stroke="#7d3c91" stroke-width="2.65"/>
<circle cx="279.70" cy="367.20" r="4.9" fill="#d8c4de" stroke="#7d3c91" stroke-width="2.65"/>
<circle cx="291.10" cy="396.50" r="4.9" fill="#d8c4de" stroke="#7d3c91" stroke-width="2.65"/>
<circle cx="304.60" cy="376.00" r="4.9" fill="#d8c4de" stroke="#7d3c91" stroke-width="2.65"/>
<circle cx="318.60" cy="367.20" r="4.9" fill="#d8c4de" stroke="#7d3c91" stroke-width="2.65"/>
<circle cx="331.00" cy="358.20" r="4.9" fill="#d8c4de" stroke="#7d3c91" stroke-width="2.65"/>
<circle cx="341.40" cy="369.40" r="4.9" fill="#d8c4de" stroke="#7d3c91" stroke-width="2.65"/>
<circle cx="351.50" cy="371.70" r="4.9" fill="#d8c4de" stroke="#7d3c91" stroke-width="2.65"/>
<circle cx="362.00" cy="360.00" r="4.9" fill="#d8c4de" stroke="#7d3c91" stroke-width="2.65"/>
<circle cx="371.00" cy="371.70" r="4.9" fill="#d8c4de" stroke="#7d3c91" stroke-width="2.65"/>
<circle cx="382.80" cy="340.10" r="4.9" fill="#d8c4de" stroke="#7d3c91" stroke-width="2.65"/>
<circle cx="393.40" cy="344.60" r="4.9" fill="#d8c4de" stroke="#7d3c91" stroke-width="2.65"/>
<circle cx="399.60" cy="383.80" r="4.9" fill="#d8c4de" stroke="#7d3c91" stroke-width="2.65"/>
<circle cx="407.20" cy="373.10" r="4.9" fill="#d8c4de" stroke="#7d3c91" stroke-width="2.65"/>
<circle cx="414.90" cy="371.00" r="4.9" fill="#d8c4de" stroke="#7d3c91" stroke-width="2.65"/>
<circle cx="421.30" cy="379.40" r="4.9" fill="#d8c4de" stroke="#7d3c91" stroke-width="2.65"/>
<circle cx="428.70" cy="378.80" r="4.9" fill="#d8c4de" stroke="#7d3c91" stroke-width="2.65"/>
<circle cx="436.10" cy="380.70" r="4.9" fill="#d8c4de" stroke="#7d3c91" stroke-width="2.65"/>
<circle cx="442.20" cy="388.80" r="4.9" fill="#d8c4de" stroke="#7d3c91" stroke-width="2.65"/>
<circle cx="449.50" cy="374.40" r="4.9" fill="#d8c4de" stroke="#7d3c91" stroke-width="2.65"/>
<circle cx="456.90" cy="379.10" r="4.9" fill="#d8c4de" stroke="#7d3c91" stroke-width="2.65"/>
<circle cx="465.00" cy="365.90" r="4.9" fill="#d8c4de" stroke="#7d3c91" stroke-width="2.65"/>
<circle cx="474.80" cy="343.90" r="4.9" fill="#d8c4de" stroke="#7d3c91" stroke-width="2.65"/>
<circle cx="481.80" cy="373.50" r="4.9" fill="#d8c4de" stroke="#7d3c91" stroke-width="2.65"/>
<circle cx="487.40" cy="394.50" r="4.9" fill="#d8c4de" stroke="#7d3c91" stroke-width="2.65"/>
<circle cx="494.10" cy="381.50" r="4.9" fill="#d8c4de" stroke="#7d3c91" stroke-width="2.65"/>
<polyline points="119.40,451.00 173.50,417.50 211.10,401.80 231.40,400.00 258.20,362.20 280.90,348.10 297.00,362.00 311.90,354.60 330.70,318.60 350.20,293.10 368.30,281.60 384.20,279.60 399.90,265.50 414.00,262.20 426.70,262.50 439.50,252.50 448.50,273.70 456.90,287.80 466.30,267.00 474.80,275.00 481.50,295.70 490.10,270.20 498.60,276.40 507.30,265.20 517.40,249.10 525.40,263.90 532.80,271.90 540.20,274.60 547.60,276.00 555.00,274.60" fill="none" stroke="#9467a9" stroke-width="2.5" stroke-linejoin="round" stroke-linecap="butt" />
<line x1="119.40" y1="439.00" x2="119.40" y2="464.77" stroke="#9467a9" stroke-width="2.5" />
<line x1="173.50" y1="408.50" x2="173.50" y2="427.46" stroke="#9467a9" stroke-width="2.5" />
<line x1="211.10" y1="392.80" x2="211.10" y2="411.76" stroke="#9467a9" stroke-width="2.5" />
<line x1="231.40" y1="390.00" x2="231.40" y2="411.20" stroke="#9467a9" stroke-width="2.5" />
<line x1="258.20" y1="352.20" x2="258.20" y2="373.40" stroke="#9467a9" stroke-width="2.5" />
<line x1="280.90" y1="338.10" x2="280.90" y2="359.30" stroke="#9467a9" stroke-width="2.5" />
<line x1="297.00" y1="352.00" x2="297.00" y2="373.20" stroke="#9467a9" stroke-width="2.5" />
<line x1="311.90" y1="342.60" x2="311.90" y2="368.37" stroke="#9467a9" stroke-width="2.5" />
<line x1="330.70" y1="306.60" x2="330.70" y2="332.37" stroke="#9467a9" stroke-width="2.5" />
<line x1="350.20" y1="281.10" x2="350.20" y2="306.87" stroke="#9467a9" stroke-width="2.5" />
<line x1="368.30" y1="269.60" x2="368.30" y2="295.37" stroke="#9467a9" stroke-width="2.5" />
<line x1="384.20" y1="267.60" x2="384.20" y2="293.37" stroke="#9467a9" stroke-width="2.5" />
<line x1="399.90" y1="252.50" x2="399.90" y2="280.60" stroke="#9467a9" stroke-width="2.5" />
<line x1="414.00" y1="248.20" x2="414.00" y2="278.67" stroke="#9467a9" stroke-width="2.5" />
<line x1="426.70" y1="246.50" x2="426.70" y2="281.81" stroke="#9467a9" stroke-width="2.5" />
<line x1="439.50" y1="237.70" x2="439.50" y2="270.09" stroke="#9467a9" stroke-width="2.5" />
<line x1="448.50" y1="257.90" x2="448.50" y2="292.72" stroke="#9467a9" stroke-width="2.5" />
<line x1="456.90" y1="268.30" x2="456.90" y2="312.46" stroke="#9467a9" stroke-width="2.5" />
<line x1="466.30" y1="249.00" x2="466.30" y2="289.30" stroke="#9467a9" stroke-width="2.5" />
<line x1="474.80" y1="260.00" x2="474.80" y2="292.87" stroke="#9467a9" stroke-width="2.5" />
<line x1="481.50" y1="283.70" x2="481.50" y2="309.47" stroke="#9467a9" stroke-width="2.5" />
<line x1="490.10" y1="254.20" x2="490.10" y2="289.51" stroke="#9467a9" stroke-width="2.5" />
<line x1="498.60" y1="258.90" x2="498.60" y2="297.94" stroke="#9467a9" stroke-width="2.5" />
<line x1="507.30" y1="251.20" x2="507.30" y2="281.67" stroke="#9467a9" stroke-width="2.5" />
<line x1="517.40" y1="236.10" x2="517.40" y2="264.20" stroke="#9467a9" stroke-width="2.5" />
<line x1="525.40" y1="247.90" x2="525.40" y2="283.21" stroke="#9467a9" stroke-width="2.5" />
<line x1="532.80" y1="256.50" x2="532.80" y2="290.34" stroke="#9467a9" stroke-width="2.5" />
<line x1="540.20" y1="261.20" x2="540.20" y2="290.24" stroke="#9467a9" stroke-width="2.5" />
<line x1="547.60" y1="259.50" x2="547.60" y2="296.04" stroke="#9467a9" stroke-width="2.5" />
<line x1="555.00" y1="257.60" x2="555.00" y2="295.39" stroke="#9467a9" stroke-width="2.5" />
<circle cx="119.40" cy="451.00" r="4.9" fill="#dfd1e5" stroke="#9467a9" stroke-width="2.65"/>
<circle cx="173.50" cy="417.50" r="4.9" fill="#dfd1e5" stroke="#9467a9" stroke-width="2.65"/>
<circle cx="211.10" cy="401.80" r="4.9" fill="#dfd1e5" stroke="#9467a9" stroke-width="2.65"/>
<circle cx="231.40" cy="400.00" r="4.9" fill="#dfd1e5" stroke="#9467a9" stroke-width="2.65"/>
<circle cx="258.20" cy="362.20" r="4.9" fill="#dfd1e5" stroke="#9467a9" stroke-width="2.65"/>
<circle cx="280.90" cy="348.10" r="4.9" fill="#dfd1e5" stroke="#9467a9" stroke-width="2.65"/>
<circle cx="297.00" cy="362.00" r="4.9" fill="#dfd1e5" stroke="#9467a9" stroke-width="2.65"/>
<circle cx="311.90" cy="354.60" r="4.9" fill="#dfd1e5" stroke="#9467a9" stroke-width="2.65"/>
<circle cx="330.70" cy="318.60" r="4.9" fill="#dfd1e5" stroke="#9467a9" stroke-width="2.65"/>
<circle cx="350.20" cy="293.10" r="4.9" fill="#dfd1e5" stroke="#9467a9" stroke-width="2.65"/>
<circle cx="368.30" cy="281.60" r="4.9" fill="#dfd1e5" stroke="#9467a9" stroke-width="2.65"/>
<circle cx="384.20" cy="279.60" r="4.9" fill="#dfd1e5" stroke="#9467a9" stroke-width="2.65"/>
<circle cx="399.90" cy="265.50" r="4.9" fill="#dfd1e5" stroke="#9467a9" stroke-width="2.65"/>
<circle cx="414.00" cy="262.20" r="4.9" fill="#dfd1e5" stroke="#9467a9" stroke-width="2.65"/>
<circle cx="426.70" cy="262.50" r="4.9" fill="#dfd1e5" stroke="#9467a9" stroke-width="2.65"/>
<circle cx="439.50" cy="252.50" r="4.9" fill="#dfd1e5" stroke="#9467a9" stroke-width="2.65"/>
<circle cx="448.50" cy="273.70" r="4.9" fill="#dfd1e5" stroke="#9467a9" stroke-width="2.65"/>
<circle cx="456.90" cy="287.80" r="4.9" fill="#dfd1e5" stroke="#9467a9" stroke-width="2.65"/>
<circle cx="466.30" cy="267.00" r="4.9" fill="#dfd1e5" stroke="#9467a9" stroke-width="2.65"/>
<circle cx="474.80" cy="275.00" r="4.9" fill="#dfd1e5" stroke="#9467a9" stroke-width="2.65"/>
<circle cx="481.50" cy="295.70" r="4.9" fill="#dfd1e5" stroke="#9467a9" stroke-width="2.65"/>
<circle cx="490.10" cy="270.20" r="4.9" fill="#dfd1e5" stroke="#9467a9" stroke-width="2.65"/>
<circle cx="498.60" cy="276.40" r="4.9" fill="#dfd1e5" stroke="#9467a9" stroke-width="2.65"/>
<circle cx="507.30" cy="265.20" r="4.9" fill="#dfd1e5" stroke="#9467a9" stroke-width="2.65"/>
<circle cx="517.40" cy="249.10" r="4.9" fill="#dfd1e5" stroke="#9467a9" stroke-width="2.65"/>
<circle cx="525.40" cy="263.90" r="4.9" fill="#dfd1e5" stroke="#9467a9" stroke-width="2.65"/>
<circle cx="532.80" cy="271.90" r="4.9" fill="#dfd1e5" stroke="#9467a9" stroke-width="2.65"/>
<circle cx="540.20" cy="274.60" r="4.9" fill="#dfd1e5" stroke="#9467a9" stroke-width="2.65"/>
<circle cx="547.60" cy="276.00" r="4.9" fill="#dfd1e5" stroke="#9467a9" stroke-width="2.65"/>
<circle cx="555.00" cy="274.60" r="4.9" fill="#dfd1e5" stroke="#9467a9" stroke-width="2.65"/>
<polyline points="129.70,434.50 179.00,417.00 214.60,390.60 245.30,362.70 265.20,372.60 287.90,338.70 311.70,306.50 332.10,297.10 351.60,279.60 370.40,263.90 387.80,252.80 404.60,241.30 421.30,231.70 436.50,215.20 452.70,200.00 467.20,194.50 481.50,187.30 493.00,194.50 504.80,186.90 517.10,175.50 526.30,194.50 534.80,201.90 542.80,200.00 550.50,211.40 559.00,192.40 568.20,188.90 575.50,202.50 583.10,201.60 590.00,209.50 597.70,201.60" fill="none" stroke="#ac86c0" stroke-width="2.5" stroke-linejoin="round" stroke-linecap="butt" />
<line x1="129.70" y1="424.50" x2="129.70" y2="445.70" stroke="#ac86c0" stroke-width="2.5" />
<line x1="179.00" y1="408.00" x2="179.00" y2="426.96" stroke="#ac86c0" stroke-width="2.5" />
<line x1="214.60" y1="381.60" x2="214.60" y2="400.56" stroke="#ac86c0" stroke-width="2.5" />
<line x1="245.30" y1="353.70" x2="245.30" y2="372.66" stroke="#ac86c0" stroke-width="2.5" />
<line x1="265.20" y1="362.60" x2="265.20" y2="383.80" stroke="#ac86c0" stroke-width="2.5" />
<line x1="287.90" y1="329.70" x2="287.90" y2="348.66" stroke="#ac86c0" stroke-width="2.5" />
<line x1="311.70" y1="297.50" x2="311.70" y2="316.46" stroke="#ac86c0" stroke-width="2.5" />
<line x1="332.10" y1="288.10" x2="332.10" y2="307.06" stroke="#ac86c0" stroke-width="2.5" />
<line x1="351.60" y1="270.60" x2="351.60" y2="289.56" stroke="#ac86c0" stroke-width="2.5" />
<line x1="370.40" y1="254.90" x2="370.40" y2="273.86" stroke="#ac86c0" stroke-width="2.5" />
<line x1="387.80" y1="243.80" x2="387.80" y2="262.76" stroke="#ac86c0" stroke-width="2.5" />
<line x1="404.60" y1="231.30" x2="404.60" y2="252.50" stroke="#ac86c0" stroke-width="2.5" />
<line x1="421.30" y1="219.70" x2="421.30" y2="245.47" stroke="#ac86c0" stroke-width="2.5" />
<line x1="436.50" y1="202.20" x2="436.50" y2="230.30" stroke="#ac86c0" stroke-width="2.5" />
<line x1="452.70" y1="188.60" x2="452.70" y2="212.98" stroke="#ac86c0" stroke-width="2.5" />
<line x1="467.20" y1="183.50" x2="467.20" y2="206.97" stroke="#ac86c0" stroke-width="2.5" />
<line x1="481.50" y1="175.90" x2="481.50" y2="200.28" stroke="#ac86c0" stroke-width="2.5" />
<line x1="493.00" y1="182.10" x2="493.00" y2="208.80" stroke="#ac86c0" stroke-width="2.5" />
<line x1="504.80" y1="172.00" x2="504.80" y2="204.63" stroke="#ac86c0" stroke-width="2.5" />
<line x1="517.10" y1="160.90" x2="517.10" y2="192.80" stroke="#ac86c0" stroke-width="2.5" />
<line x1="526.30" y1="181.20" x2="526.30" y2="210.01" stroke="#ac86c0" stroke-width="2.5" />
<line x1="534.80" y1="190.20" x2="534.80" y2="215.27" stroke="#ac86c0" stroke-width="2.5" />
<line x1="542.80" y1="186.40" x2="542.80" y2="215.92" stroke="#ac86c0" stroke-width="2.5" />
<line x1="550.50" y1="197.80" x2="550.50" y2="227.32" stroke="#ac86c0" stroke-width="2.5" />
<line x1="559.00" y1="179.40" x2="559.00" y2="207.50" stroke="#ac86c0" stroke-width="2.5" />
<line x1="568.20" y1="175.90" x2="568.20" y2="204.00" stroke="#ac86c0" stroke-width="2.5" />
<line x1="575.50" y1="189.50" x2="575.50" y2="217.60" stroke="#ac86c0" stroke-width="2.5" />
<line x1="583.10" y1="187.30" x2="583.10" y2="218.48" stroke="#ac86c0" stroke-width="2.5" />
<line x1="590.00" y1="196.80" x2="590.00" y2="224.20" stroke="#ac86c0" stroke-width="2.5" />
<line x1="597.70" y1="190.60" x2="597.70" y2="214.07" stroke="#ac86c0" stroke-width="2.5" />
<circle cx="129.70" cy="434.50" r="4.9" fill="#e6dbec" stroke="#ac86c0" stroke-width="2.65"/>
<circle cx="179.00" cy="417.00" r="4.9" fill="#e6dbec" stroke="#ac86c0" stroke-width="2.65"/>
<circle cx="214.60" cy="390.60" r="4.9" fill="#e6dbec" stroke="#ac86c0" stroke-width="2.65"/>
<circle cx="245.30" cy="362.70" r="4.9" fill="#e6dbec" stroke="#ac86c0" stroke-width="2.65"/>
<circle cx="265.20" cy="372.60" r="4.9" fill="#e6dbec" stroke="#ac86c0" stroke-width="2.65"/>
<circle cx="287.90" cy="338.70" r="4.9" fill="#e6dbec" stroke="#ac86c0" stroke-width="2.65"/>
<circle cx="311.70" cy="306.50" r="4.9" fill="#e6dbec" stroke="#ac86c0" stroke-width="2.65"/>
<circle cx="332.10" cy="297.10" r="4.9" fill="#e6dbec" stroke="#ac86c0" stroke-width="2.65"/>
<circle cx="351.60" cy="279.60" r="4.9" fill="#e6dbec" stroke="#ac86c0" stroke-width="2.65"/>
<circle cx="370.40" cy="263.90" r="4.9" fill="#e6dbec" stroke="#ac86c0" stroke-width="2.65"/>
<circle cx="387.80" cy="252.80" r="4.9" fill="#e6dbec" stroke="#ac86c0" stroke-width="2.65"/>
<circle cx="404.60" cy="241.30" r="4.9" fill="#e6dbec" stroke="#ac86c0" stroke-width="2.65"/>
<circle cx="421.30" cy="231.70" r="4.9" fill="#e6dbec" stroke="#ac86c0" stroke-width="2.65"/>
<circle cx="436.50" cy="215.20" r="4.9" fill="#e6dbec" stroke="#ac86c0" stroke-width="2.65"/>
<circle cx="452.70" cy="200.00" r="4.9" fill="#e6dbec" stroke="#ac86c0" stroke-width="2.65"/>
<circle cx="467.20" cy="194.50" r="4.9" fill="#e6dbec" stroke="#ac86c0" stroke-width="2.65"/>
<circle cx="481.50" cy="187.30" r="4.9" fill="#e6dbec" stroke="#ac86c0" stroke-width="2.65"/>
<circle cx="493.00" cy="194.50" r="4.9" fill="#e6dbec" stroke="#ac86c0" stroke-width="2.65"/>
<circle cx="504.80" cy="186.90" r="4.9" fill="#e6dbec" stroke="#ac86c0" stroke-width="2.65"/>
<circle cx="517.10" cy="175.50" r="4.9" fill="#e6dbec" stroke="#ac86c0" stroke-width="2.65"/>
<circle cx="526.30" cy="194.50" r="4.9" fill="#e6dbec" stroke="#ac86c0" stroke-width="2.65"/>
<circle cx="534.80" cy="201.90" r="4.9" fill="#e6dbec" stroke="#ac86c0" stroke-width="2.65"/>
<circle cx="542.80" cy="200.00" r="4.9" fill="#e6dbec" stroke="#ac86c0" stroke-width="2.65"/>
<circle cx="550.50" cy="211.40" r="4.9" fill="#e6dbec" stroke="#ac86c0" stroke-width="2.65"/>
<circle cx="559.00" cy="192.40" r="4.9" fill="#e6dbec" stroke="#ac86c0" stroke-width="2.65"/>
<circle cx="568.20" cy="188.90" r="4.9" fill="#e6dbec" stroke="#ac86c0" stroke-width="2.65"/>
<circle cx="575.50" cy="202.50" r="4.9" fill="#e6dbec" stroke="#ac86c0" stroke-width="2.65"/>
<circle cx="583.10" cy="201.60" r="4.9" fill="#e6dbec" stroke="#ac86c0" stroke-width="2.65"/>
<circle cx="590.00" cy="209.50" r="4.9" fill="#e6dbec" stroke="#ac86c0" stroke-width="2.65"/>
<circle cx="597.70" cy="201.60" r="4.9" fill="#e6dbec" stroke="#ac86c0" stroke-width="2.65"/>
<polyline points="141.50,415.50 198.50,377.00 233.40,359.70 260.30,347.20 288.70,309.00 317.90,271.60 344.00,246.10 366.20,234.50 384.70,229.50 403.10,212.80 423.20,182.30 442.50,167.60 458.70,165.80 473.70,159.60 489.00,144.60 503.80,134.40 518.20,124.80 531.80,118.20 543.80,122.20 555.80,112.60 567.00,114.00 577.80,109.40 589.00,100.20 597.80,115.80 605.80,127.20 614.20,118.80 621.80,118.80 629.40,128.20 637.20,121.00 645.80,114.60" fill="none" stroke="#5aae61" stroke-width="2.5" stroke-linejoin="round" stroke-linecap="butt" />
<line x1="141.50" y1="404.50" x2="141.50" y2="427.97" stroke="#5aae61" stroke-width="2.5" />
<line x1="198.50" y1="367.30" x2="198.50" y2="387.82" stroke="#5aae61" stroke-width="2.5" />
<line x1="233.40" y1="350.20" x2="233.40" y2="370.27" stroke="#5aae61" stroke-width="2.5" />
<line x1="260.30" y1="337.70" x2="260.30" y2="357.77" stroke="#5aae61" stroke-width="2.5" />
<line x1="288.70" y1="299.50" x2="288.70" y2="319.57" stroke="#5aae61" stroke-width="2.5" />
<line x1="317.90" y1="262.60" x2="317.90" y2="281.56" stroke="#5aae61" stroke-width="2.5" />
<line x1="344.00" y1="237.10" x2="344.00" y2="256.06" stroke="#5aae61" stroke-width="2.5" />
<line x1="366.20" y1="225.50" x2="366.20" y2="244.46" stroke="#5aae61" stroke-width="2.5" />
<line x1="384.70" y1="220.50" x2="384.70" y2="239.46" stroke="#5aae61" stroke-width="2.5" />
<line x1="403.10" y1="203.80" x2="403.10" y2="222.76" stroke="#5aae61" stroke-width="2.5" />
<line x1="423.20" y1="173.30" x2="423.20" y2="192.26" stroke="#5aae61" stroke-width="2.5" />
<line x1="442.50" y1="158.60" x2="442.50" y2="177.56" stroke="#5aae61" stroke-width="2.5" />
<line x1="458.70" y1="156.80" x2="458.70" y2="175.76" stroke="#5aae61" stroke-width="2.5" />
<line x1="473.70" y1="150.60" x2="473.70" y2="169.56" stroke="#5aae61" stroke-width="2.5" />
<line x1="489.00" y1="135.00" x2="489.00" y2="155.30" stroke="#5aae61" stroke-width="2.5" />
<line x1="503.80" y1="124.80" x2="503.80" y2="145.10" stroke="#5aae61" stroke-width="2.5" />
<line x1="518.20" y1="115.80" x2="518.20" y2="134.76" stroke="#5aae61" stroke-width="2.5" />
<line x1="531.80" y1="109.50" x2="531.80" y2="127.79" stroke="#5aae61" stroke-width="2.5" />
<line x1="543.80" y1="112.60" x2="543.80" y2="132.90" stroke="#5aae61" stroke-width="2.5" />
<line x1="555.80" y1="102.60" x2="555.80" y2="123.80" stroke="#5aae61" stroke-width="2.5" />
<line x1="567.00" y1="104.50" x2="567.00" y2="124.57" stroke="#5aae61" stroke-width="2.5" />
<line x1="577.80" y1="101.90" x2="577.80" y2="117.55" stroke="#5aae61" stroke-width="2.5" />
<line x1="589.00" y1="92.40" x2="589.00" y2="108.71" stroke="#5aae61" stroke-width="2.5" />
<line x1="597.80" y1="108.00" x2="597.80" y2="124.31" stroke="#5aae61" stroke-width="2.5" />
<line x1="605.80" y1="118.20" x2="605.80" y2="137.16" stroke="#5aae61" stroke-width="2.5" />
<line x1="614.20" y1="109.80" x2="614.20" y2="128.76" stroke="#5aae61" stroke-width="2.5" />
<line x1="621.80" y1="111.60" x2="621.80" y2="126.60" stroke="#5aae61" stroke-width="2.5" />
<line x1="629.40" y1="119.80" x2="629.40" y2="137.43" stroke="#5aae61" stroke-width="2.5" />
<line x1="637.20" y1="112.60" x2="637.20" y2="130.23" stroke="#5aae61" stroke-width="2.5" />
<line x1="645.80" y1="107.10" x2="645.80" y2="122.75" stroke="#5aae61" stroke-width="2.5" />
<circle cx="141.50" cy="415.50" r="4.9" fill="#cee7d0" stroke="#5aae61" stroke-width="2.65"/>
<circle cx="198.50" cy="377.00" r="4.9" fill="#cee7d0" stroke="#5aae61" stroke-width="2.65"/>
<circle cx="233.40" cy="359.70" r="4.9" fill="#cee7d0" stroke="#5aae61" stroke-width="2.65"/>
<circle cx="260.30" cy="347.20" r="4.9" fill="#cee7d0" stroke="#5aae61" stroke-width="2.65"/>
<circle cx="288.70" cy="309.00" r="4.9" fill="#cee7d0" stroke="#5aae61" stroke-width="2.65"/>
<circle cx="317.90" cy="271.60" r="4.9" fill="#cee7d0" stroke="#5aae61" stroke-width="2.65"/>
<circle cx="344.00" cy="246.10" r="4.9" fill="#cee7d0" stroke="#5aae61" stroke-width="2.65"/>
<circle cx="366.20" cy="234.50" r="4.9" fill="#cee7d0" stroke="#5aae61" stroke-width="2.65"/>
<circle cx="384.70" cy="229.50" r="4.9" fill="#cee7d0" stroke="#5aae61" stroke-width="2.65"/>
<circle cx="403.10" cy="212.80" r="4.9" fill="#cee7d0" stroke="#5aae61" stroke-width="2.65"/>
<circle cx="423.20" cy="182.30" r="4.9" fill="#cee7d0" stroke="#5aae61" stroke-width="2.65"/>
<circle cx="442.50" cy="167.60" r="4.9" fill="#cee7d0" stroke="#5aae61" stroke-width="2.65"/>
<circle cx="458.70" cy="165.80" r="4.9" fill="#cee7d0" stroke="#5aae61" stroke-width="2.65"/>
<circle cx="473.70" cy="159.60" r="4.9" fill="#cee7d0" stroke="#5aae61" stroke-width="2.65"/>
<circle cx="489.00" cy="144.60" r="4.9" fill="#cee7d0" stroke="#5aae61" stroke-width="2.65"/>
<circle cx="503.80" cy="134.40" r="4.9" fill="#cee7d0" stroke="#5aae61" stroke-width="2.65"/>
<circle cx="518.20" cy="124.80" r="4.9" fill="#cee7d0" stroke="#5aae61" stroke-width="2.65"/>
<circle cx="531.80" cy="118.20" r="4.9" fill="#cee7d0" stroke="#5aae61" stroke-width="2.65"/>
<circle cx="543.80" cy="122.20" r="4.9" fill="#cee7d0" stroke="#5aae61" stroke-width="2.65"/>
<circle cx="555.80" cy="112.60" r="4.9" fill="#cee7d0" stroke="#5aae61" stroke-width="2.65"/>
<circle cx="567.00" cy="114.00" r="4.9" fill="#cee7d0" stroke="#5aae61" stroke-width="2.65"/>
<circle cx="577.80" cy="109.40" r="4.9" fill="#cee7d0" stroke="#5aae61" stroke-width="2.65"/>
<circle cx="589.00" cy="100.20" r="4.9" fill="#cee7d0" stroke="#5aae61" stroke-width="2.65"/>
<circle cx="597.80" cy="115.80" r="4.9" fill="#cee7d0" stroke="#5aae61" stroke-width="2.65"/>
<circle cx="605.80" cy="127.20" r="4.9" fill="#cee7d0" stroke="#5aae61" stroke-width="2.65"/>
<circle cx="614.20" cy="118.80" r="4.9" fill="#cee7d0" stroke="#5aae61" stroke-width="2.65"/>
<circle cx="621.80" cy="118.80" r="4.9" fill="#cee7d0" stroke="#5aae61" stroke-width="2.65"/>
<circle cx="629.40" cy="128.20" r="4.9" fill="#cee7d0" stroke="#5aae61" stroke-width="2.65"/>
<circle cx="637.20" cy="121.00" r="4.9" fill="#cee7d0" stroke="#5aae61" stroke-width="2.65"/>
<circle cx="645.80" cy="114.60" r="4.9" fill="#cee7d0" stroke="#5aae61" stroke-width="2.65"/>
<polyline points="168.70,370.10 216.40,356.70 261.80,298.50 300.60,255.50 331.80,233.60 362.80,190.90 390.00,169.10 410.60,167.60 431.30,146.50 452.90,117.20 473.60,99.20 493.50,81.20 512.30,65.80 528.00,64.00 543.00,59.20 557.70,46.80 572.30,36.30 585.00,34.30 597.00,36.30 607.50,34.30 618.80,29.20 629.70,25.80 639.80,22.80 649.50,25.30 657.80,34.00 666.00,36.70 674.30,35.80 682.50,31.00 690.50,29.50 698.30,35.80" fill="none" stroke="#054b1e" stroke-width="2.5" stroke-linejoin="round" stroke-linecap="butt" />
<line x1="168.70" y1="361.60" x2="168.70" y2="379.45" stroke="#054b1e" stroke-width="2.5" />
<line x1="216.40" y1="348.20" x2="216.40" y2="366.05" stroke="#054b1e" stroke-width="2.5" />
<line x1="261.80" y1="286.50" x2="261.80" y2="312.27" stroke="#054b1e" stroke-width="2.5" />
<line x1="300.60" y1="244.50" x2="300.60" y2="267.97" stroke="#054b1e" stroke-width="2.5" />
<line x1="331.80" y1="223.60" x2="331.80" y2="244.80" stroke="#054b1e" stroke-width="2.5" />
<line x1="362.80" y1="181.90" x2="362.80" y2="200.86" stroke="#054b1e" stroke-width="2.5" />
<line x1="390.00" y1="160.60" x2="390.00" y2="178.45" stroke="#054b1e" stroke-width="2.5" />
<line x1="410.60" y1="159.10" x2="410.60" y2="176.95" stroke="#054b1e" stroke-width="2.5" />
<line x1="431.30" y1="139.50" x2="431.30" y2="154.07" stroke="#054b1e" stroke-width="2.5" />
<line x1="452.90" y1="111.20" x2="452.90" y2="123.61" stroke="#054b1e" stroke-width="2.5" />
<line x1="473.60" y1="95.20" x2="473.60" y2="103.38" stroke="#054b1e" stroke-width="2.5" />
<circle cx="168.70" cy="370.10" r="4.9" fill="#b4c9bc" stroke="#054b1e" stroke-width="2.65"/>
<circle cx="216.40" cy="356.70" r="4.9" fill="#b4c9bc" stroke="#054b1e" stroke-width="2.65"/>
<circle cx="261.80" cy="298.50" r="4.9" fill="#b4c9bc" stroke="#054b1e" stroke-width="2.65"/>
<circle cx="300.60" cy="255.50" r="4.9" fill="#b4c9bc" stroke="#054b1e" stroke-width="2.65"/>
<circle cx="331.80" cy="233.60" r="4.9" fill="#b4c9bc" stroke="#054b1e" stroke-width="2.65"/>
<circle cx="362.80" cy="190.90" r="4.9" fill="#b4c9bc" stroke="#054b1e" stroke-width="2.65"/>
<circle cx="390.00" cy="169.10" r="4.9" fill="#b4c9bc" stroke="#054b1e" stroke-width="2.65"/>
<circle cx="410.60" cy="167.60" r="4.9" fill="#b4c9bc" stroke="#054b1e" stroke-width="2.65"/>
<circle cx="431.30" cy="146.50" r="4.9" fill="#b4c9bc" stroke="#054b1e" stroke-width="2.65"/>
<circle cx="452.90" cy="117.20" r="4.9" fill="#b4c9bc" stroke="#054b1e" stroke-width="2.65"/>
<circle cx="473.60" cy="99.20" r="4.9" fill="#b4c9bc" stroke="#054b1e" stroke-width="2.65"/>
<circle cx="493.50" cy="81.20" r="4.9" fill="#b4c9bc" stroke="#054b1e" stroke-width="2.65"/>
<circle cx="512.30" cy="65.80" r="4.9" fill="#b4c9bc" stroke="#054b1e" stroke-width="2.65"/>
<circle cx="528.00" cy="64.00" r="4.9" fill="#b4c9bc" stroke="#054b1e" stroke-width="2.65"/>
<circle cx="543.00" cy="59.20" r="4.9" fill="#b4c9bc" stroke="#054b1e" stroke-width="2.65"/>
<circle cx="557.70" cy="46.80" r="4.9" fill="#b4c9bc" stroke="#054b1e" stroke-width="2.65"/>
<circle cx="572.30" cy="36.30" r="4.9" fill="#b4c9bc" stroke="#054b1e" stroke-width="2.65"/>
<circle cx="585.00" cy="34.30" r="4.9" fill="#b4c9bc" stroke="#054b1e" stroke-width="2.65"/>
<circle cx="597.00" cy="36.30" r="4.9" fill="#b4c9bc" stroke="#054b1e" stroke-width="2.65"/>
<circle cx="607.50" cy="34.30" r="4.9" fill="#b4c9bc" stroke="#054b1e" stroke-width="2.65"/>
<circle cx="618.80" cy="29.20" r="4.9" fill="#b4c9bc" stroke="#054b1e" stroke-width="2.65"/>
<circle cx="629.70" cy="25.80" r="4.9" fill="#b4c9bc" stroke="#054b1e" stroke-width="2.65"/>
<circle cx="639.80" cy="22.80" r="4.9" fill="#b4c9bc" stroke="#054b1e" stroke-width="2.65"/>
<circle cx="649.50" cy="25.30" r="4.9" fill="#b4c9bc" stroke="#054b1e" stroke-width="2.65"/>
<circle cx="657.80" cy="34.00" r="4.9" fill="#b4c9bc" stroke="#054b1e" stroke-width="2.65"/>
<circle cx="666.00" cy="36.70" r="4.9" fill="#b4c9bc" stroke="#054b1e" stroke-width="2.65"/>
<circle cx="674.30" cy="35.80" r="4.9" fill="#b4c9bc" stroke="#054b1e" stroke-width="2.65"/>
<circle cx="682.50" cy="31.00" r="4.9" fill="#b4c9bc" stroke="#054b1e" stroke-width="2.65"/>
<circle cx="690.50" cy="29.50" r="4.9" fill="#b4c9bc" stroke="#054b1e" stroke-width="2.65"/>
<circle cx="698.30" cy="35.80" r="4.9" fill="#b4c9bc" stroke="#054b1e" stroke-width="2.65"/>
</g>
<line x1="510.00" y1="374.60" x2="593.40" y2="387.40" stroke="#000" stroke-width="5.4" />
<line x1="495.50" y1="451.50" x2="573.00" y2="475.60" stroke="#000" stroke-width="5.4" />
<line x1="478.70" y1="523.60" x2="545.80" y2="569.10" stroke="#000" stroke-width="5.4" />
<g transform="translate(515.40,360.70) rotate(7.8)">
<text x="-8.14" y="7.65" font-size="29" font-style="italic" font-family='"Liberation Sans", sans-serif' textLength="14.78" lengthAdjust="spacingAndGlyphs">α</text>
<text x="14.26" y="10.66" font-size="29" font-style="italic" font-family='"Liberation Sans", sans-serif' textLength="20.43" lengthAdjust="spacingAndGlyphs">=</text>
<text x="46.57" y="10.05" font-size="29" font-style="italic" font-family='"Liberation Sans", sans-serif' textLength="19.23" lengthAdjust="spacingAndGlyphs">−</text>
<text x="73.45" y="9.68" font-size="29" font-style="italic" font-family='"Liberation Sans", sans-serif' textLength="55.84" lengthAdjust="spacingAndGlyphs">0.09</text>
</g>
<g transform="translate(501.60,437.70) rotate(14.3)">
<text x="-8.14" y="7.65" font-size="29" font-style="italic" font-family='"Liberation Sans", sans-serif' textLength="14.78" lengthAdjust="spacingAndGlyphs">α</text>
<text x="14.09" y="8.48" font-size="29" font-style="italic" font-family='"Liberation Sans", sans-serif' textLength="20.43" lengthAdjust="spacingAndGlyphs">=</text>
<text x="47.16" y="9.60" font-size="29" font-style="italic" font-family='"Liberation Sans", sans-serif' textLength="19.23" lengthAdjust="spacingAndGlyphs">−</text>
<text x="74.21" y="9.88" font-size="29" font-style="italic" font-family='"Liberation Sans", sans-serif' textLength="55.40" lengthAdjust="spacingAndGlyphs">0.18</text>
</g>
<g transform="translate(487.30,510.90) rotate(29.2)">
<text x="-8.14" y="7.65" font-size="29" font-style="italic" font-family='"Liberation Sans", sans-serif' textLength="14.78" lengthAdjust="spacingAndGlyphs">α</text>
<text x="13.34" y="8.93" font-size="29" font-style="italic" font-family='"Liberation Sans", sans-serif' textLength="20.43" lengthAdjust="spacingAndGlyphs">=</text>
<text x="46.31" y="9.73" font-size="29" font-style="italic" font-family='"Liberation Sans", sans-serif' textLength="19.23" lengthAdjust="spacingAndGlyphs">−</text>
<text x="73.59" y="10.36" font-size="29" font-style="italic" font-family='"Liberation Sans", sans-serif' textLength="55.16" lengthAdjust="spacingAndGlyphs">0.45</text>
</g>
<line x1="179.10" y1="182.70" x2="243.30" y2="81.20" stroke="#000" stroke-width="5.5" />
<text transform="translate(175.6,146.3) rotate(-58.6)" font-size="28" font-family='"Liberation Sans", sans-serif'>p = 1</text>
<clipPath id="clipb"><rect x="902.5" y="12.4" width="595.2" height="202.2"/></clipPath>
<g clip-path="url(#clipb)">
<path d="M902.00,192.90 C903.08,192.53 903.85,192.25 908.50,190.70 C913.15,189.15 921.98,186.35 929.90,183.60 C937.82,180.85 947.25,177.38 956.00,174.20 C964.75,171.02 973.77,167.92 982.40,164.50 C991.03,161.08 999.35,157.48 1007.80,153.70 C1016.25,149.92 1024.65,145.65 1033.10,141.80 C1041.55,137.95 1050.13,134.53 1058.50,130.60 C1066.87,126.67 1075.18,122.65 1083.30,118.20 C1091.42,113.75 1099.12,108.53 1107.20,103.90 C1115.28,99.27 1123.47,94.70 1131.80,90.40 C1140.13,86.10 1148.75,81.82 1157.20,78.10 C1165.65,74.38 1173.92,71.52 1182.50,68.10 C1191.08,64.68 1199.87,60.47 1208.70,57.60 C1217.53,54.73 1226.43,53.27 1235.50,50.90 C1244.57,48.53 1254.52,45.38 1263.10,43.40 C1271.68,41.42 1278.07,40.75 1287.00,39.00 C1295.93,37.25 1307.12,34.65 1316.70,32.90 C1326.28,31.15 1335.22,29.92 1344.50,28.50 C1353.78,27.08 1363.10,25.63 1372.40,24.40 C1381.70,23.17 1391.02,22.13 1400.30,21.10 C1409.58,20.07 1418.82,19.05 1428.10,18.20 C1437.38,17.35 1446.47,16.68 1456.00,16.00 C1465.53,15.32 1478.13,14.53 1485.30,14.10 C1492.47,13.67 1496.72,13.52 1499.00,13.40" fill="none" stroke="#4ca4f5" stroke-width="5.33" stroke-dasharray="19.5 8.4" stroke-dashoffset="8.59"/>
<line x1="1163.20" y1="12.40" x2="1163.20" y2="214.60" stroke="#888888" stroke-width="3.6" stroke-dasharray="3.1 8.76" stroke-dashoffset="7.21" stroke-linecap="round"/>
<polyline points="903.30,210.20 914.80,209.60 991.20,208.60 1068.00,206.80 1110.00,203.50 1144.50,199.50 1170.00,194.00 1195.90,188.20 1203.10,187.20 1222.80,180.00 1250.80,169.10 1280.30,160.30 1314.80,147.10 1331.90,137.60 1364.00,122.20 1383.10,110.00 1419.90,97.90 1452.70,87.00 1484.90,77.20 1498.70,73.90" fill="none" stroke="#000" stroke-width="4" stroke-linejoin="round" stroke-linecap="butt" />
<circle cx="914.99" cy="209.40" r="6.3" fill="#c6b2c9" stroke="#40004b" stroke-width="3.0"/>
<circle cx="991.50" cy="208.40" r="6.3" fill="#d6bfda" stroke="#762a83" stroke-width="3.0"/>
<circle cx="1068.02" cy="206.80" r="6.3" fill="#dcc9e2" stroke="#8b4a9f" stroke-width="3.0"/>
<circle cx="1144.54" cy="199.50" r="6.3" fill="#e3d7ea" stroke="#a27ab8" stroke-width="3.0"/>
<circle cx="1195.55" cy="188.20" r="6.3" fill="#ede4f1" stroke="#c2a5cf" stroke-width="3.0"/>
<circle cx="1280.57" cy="153.40" r="6.3" fill="#cee7d0" stroke="#5aae61" stroke-width="3.0"/>
<circle cx="1331.58" cy="139.50" r="6.3" fill="#c0dcc8" stroke="#2e8b47" stroke-width="3.0"/>
<circle cx="1382.60" cy="107.50" r="6.3" fill="#bbd6c3" stroke="#1b7837" stroke-width="3.0"/>
<circle cx="1484.62" cy="77.80" r="6.3" fill="#b2c7bb" stroke="#00441b" stroke-width="3.0"/>
</g>
<text x="1016.47" y="114.30" font-size="29" font-family='"Liberation Sans", sans-serif' textLength="53.79" lengthAdjust="spacingAndGlyphs" fill="#4ca4f5" style="stroke:#4ca4f5">÷10</text>
<clipPath id="clipc"><rect x="902.5" y="261.5" width="595.2" height="326.79999999999995"/></clipPath>
<g clip-path="url(#clipc)">
<path d="M902.00,294.20 C903.67,294.50 908.67,295.47 912.00,296.00 C915.33,296.53 917.33,297.07 922.00,297.40 C926.67,297.73 933.67,297.97 940.00,298.00 C946.33,298.03 953.33,297.83 960.00,297.60 C966.67,297.37 974.33,296.87 980.00,296.60 C985.67,296.33 989.67,295.77 994.00,296.00 C998.33,296.23 1001.17,297.23 1006.00,298.00 C1010.83,298.77 1018.50,300.00 1023.00,300.60 C1027.50,301.20 1028.50,301.77 1033.00,301.60 C1037.50,301.43 1043.17,300.60 1050.00,299.60 C1056.83,298.60 1067.67,295.93 1074.00,295.60 C1080.33,295.27 1082.67,296.77 1088.00,297.60 C1093.33,298.43 1101.33,299.97 1106.00,300.60 C1110.67,301.23 1111.33,301.73 1116.00,301.40 C1120.67,301.07 1127.67,299.67 1134.00,298.60 C1140.33,297.53 1148.67,295.43 1154.00,295.00 C1159.33,294.57 1161.00,295.60 1166.00,296.00 C1171.00,296.40 1178.33,297.40 1184.00,297.40 C1189.67,297.40 1195.67,296.37 1200.00,296.00 C1204.33,295.63 1205.00,295.27 1210.00,295.20 C1215.00,295.13 1221.67,295.57 1230.00,295.60 C1238.33,295.63 1250.00,295.60 1260.00,295.40 C1270.00,295.20 1283.33,294.40 1290.00,294.40 C1296.67,294.40 1295.00,295.03 1300.00,295.40 C1305.00,295.77 1312.33,296.27 1320.00,296.60 C1327.67,296.93 1340.00,297.23 1346.00,297.40 C1352.00,297.57 1352.67,297.60 1356.00,297.60 C1359.33,297.60 1362.00,297.67 1366.00,297.40 C1370.00,297.13 1374.33,296.40 1380.00,296.00 C1385.67,295.60 1391.67,295.17 1400.00,295.00 C1408.33,294.83 1420.00,295.17 1430.00,295.00 C1440.00,294.83 1448.50,294.47 1460.00,294.00 C1471.50,293.53 1492.50,292.50 1499.00,292.20" fill="none" stroke="#4ca4f5" stroke-width="5.33" stroke-dasharray="19.5 8.4" stroke-dashoffset="8.22"/>
<polygon points="916.4,412.0 955.8,405.0 991.9,402.0 1017.0,388.5 1034.6,384.0 1067.4,377.0 1113.3,364.0 1162.5,353.0 1200.0,348.0 1249.1,338.5 1314.8,333.0 1334.5,328.5 1383.8,324.5 1446.2,322.0 1485.6,319.0 1485.6,322.0 1446.2,324.5 1383.8,327.0 1334.5,331.5 1314.8,336.5 1249.1,342.5 1200.0,353.5 1162.5,360.0 1113.3,372.0 1067.4,388.0 1034.6,396.0 1017.0,406.0 991.9,416.0 955.8,418.0 916.4,425.5" fill="#d9d9d9"/>
<polyline points="916.40,425.00 955.80,412.50 991.90,406.60 1034.60,394.50 1067.40,384.60 1113.30,368.20 1162.50,357.40 1200.00,350.80 1249.10,340.40 1314.80,334.80 1334.50,329.90 1383.80,325.60 1446.20,323.30 1485.60,320.70" fill="none" stroke="#262626" stroke-width="4.2" stroke-linejoin="round" stroke-linecap="butt" />
<line x1="902.30" y1="453.20" x2="1497.70" y2="453.20" stroke="#000" stroke-width="4" stroke-dasharray="4.1 6.34"/>
<polyline points="916.50,554.50 954.70,528.70 993.30,494.50 1033.30,492.70 1074.70,473.20 1113.30,462.50 1162.70,456.70 1180.00,455.30 1220.00,454.50 1300.00,453.90 1497.00,453.90" fill="none" stroke="#ec634b" stroke-width="4" stroke-linejoin="round" stroke-linecap="butt" />
<line x1="1163.20" y1="261.50" x2="1163.20" y2="588.30" stroke="#888888" stroke-width="3.6" stroke-dasharray="3.1 8.76" stroke-dashoffset="6.31" stroke-linecap="round"/>
<line x1="914.99" y1="440.60" x2="914.99" y2="464.60" stroke="#40004b" stroke-width="3" />
<circle cx="914.99" cy="452.60" r="6.3" fill="#c6b2c9" stroke="#40004b" stroke-width="3.0"/>
<line x1="991.50" y1="405.40" x2="991.50" y2="437.40" stroke="#762a83" stroke-width="3" />
<circle cx="991.50" cy="421.40" r="6.3" fill="#d6bfda" stroke="#762a83" stroke-width="3.0"/>
<line x1="1068.02" y1="350.10" x2="1068.02" y2="385.10" stroke="#8b4a9f" stroke-width="3" />
<circle cx="1068.02" cy="367.60" r="6.3" fill="#dcc9e2" stroke="#8b4a9f" stroke-width="3.0"/>
<line x1="1144.54" y1="333.00" x2="1144.54" y2="351.00" stroke="#a27ab8" stroke-width="3" />
<circle cx="1144.54" cy="342.00" r="6.3" fill="#e3d7ea" stroke="#a27ab8" stroke-width="3.0"/>
<circle cx="1195.55" cy="335.40" r="6.3" fill="#ede4f1" stroke="#c2a5cf" stroke-width="3.0"/>
<circle cx="1280.57" cy="330.70" r="6.3" fill="#cee7d0" stroke="#5aae61" stroke-width="3.0"/>
<circle cx="1331.58" cy="326.60" r="6.3" fill="#c0dcc8" stroke="#2e8b47" stroke-width="3.0"/>
<circle cx="1382.60" cy="320.70" r="6.3" fill="#bbd6c3" stroke="#1b7837" stroke-width="3.0"/>
<circle cx="1484.62" cy="319.70" r="6.3" fill="#b2c7bb" stroke="#00441b" stroke-width="3.0"/>
</g>
<line x1="1146.70" y1="554.50" x2="1085.00" y2="554.50" stroke="#888888" stroke-width="3.7" />
<polygon points="1072,554.5 1089,548 1089,561" fill="#888888"/>
<line x1="1178.70" y1="554.50" x2="1241.00" y2="554.50" stroke="#888888" stroke-width="3.7" />
<polygon points="1254.7,554.5 1237.7,548 1237.7,561" fill="#888888"/>
<text x="1101.85" y="541.50" font-size="29" font-family='"Liberation Sans", sans-serif' textLength="38.76" lengthAdjust="spacingAndGlyphs" >GP</text>
<text x="1178.64" y="541.50" font-size="29" font-family='"Liberation Sans", sans-serif' textLength="81.39" lengthAdjust="spacingAndGlyphs" >Active</text>
<rect x="108.0" y="11.0" width="595.50" height="576.20" fill="none" stroke="#000" stroke-width="4" stroke-linejoin="miter"/>
<rect x="902.5" y="12.4" width="595.20" height="202.20" fill="none" stroke="#000" stroke-width="4" stroke-linejoin="miter"/>
<rect x="902.5" y="261.5" width="595.20" height="326.80" fill="none" stroke="#000" stroke-width="4" stroke-linejoin="miter"/>
<line x1="122.88" y1="587.20" x2="122.88" y2="597.60" stroke="#000" stroke-width="3" />
<line x1="139.35" y1="587.20" x2="139.35" y2="597.60" stroke="#000" stroke-width="3" />
<line x1="152.12" y1="587.20" x2="152.12" y2="597.60" stroke="#000" stroke-width="3" />
<line x1="162.56" y1="587.20" x2="162.56" y2="597.60" stroke="#000" stroke-width="3" />
<line x1="171.38" y1="587.20" x2="171.38" y2="597.60" stroke="#000" stroke-width="3" />
<line x1="179.03" y1="587.20" x2="179.03" y2="597.60" stroke="#000" stroke-width="3" />
<line x1="185.77" y1="587.20" x2="185.77" y2="597.60" stroke="#000" stroke-width="3" />
<line x1="191.80" y1="587.20" x2="191.80" y2="602.70" stroke="#000" stroke-width="4" />
<line x1="231.48" y1="587.20" x2="231.48" y2="597.60" stroke="#000" stroke-width="3" />
<line x1="254.68" y1="587.20" x2="254.68" y2="597.60" stroke="#000" stroke-width="3" />
<line x1="271.15" y1="587.20" x2="271.15" y2="597.60" stroke="#000" stroke-width="3" />
<line x1="283.92" y1="587.20" x2="283.92" y2="597.60" stroke="#000" stroke-width="3" />
<line x1="294.36" y1="587.20" x2="294.36" y2="597.60" stroke="#000" stroke-width="3" />
<line x1="303.18" y1="587.20" x2="303.18" y2="597.60" stroke="#000" stroke-width="3" />
<line x1="310.83" y1="587.20" x2="310.83" y2="597.60" stroke="#000" stroke-width="3" />
<line x1="317.57" y1="587.20" x2="317.57" y2="597.60" stroke="#000" stroke-width="3" />
<line x1="323.60" y1="587.20" x2="323.60" y2="602.70" stroke="#000" stroke-width="4" />
<line x1="363.28" y1="587.20" x2="363.28" y2="597.60" stroke="#000" stroke-width="3" />
<line x1="386.48" y1="587.20" x2="386.48" y2="597.60" stroke="#000" stroke-width="3" />
<line x1="402.95" y1="587.20" x2="402.95" y2="597.60" stroke="#000" stroke-width="3" />
<line x1="415.72" y1="587.20" x2="415.72" y2="597.60" stroke="#000" stroke-width="3" />
<line x1="426.16" y1="587.20" x2="426.16" y2="597.60" stroke="#000" stroke-width="3" />
<line x1="434.98" y1="587.20" x2="434.98" y2="597.60" stroke="#000" stroke-width="3" />
<line x1="442.63" y1="587.20" x2="442.63" y2="597.60" stroke="#000" stroke-width="3" />
<line x1="449.37" y1="587.20" x2="449.37" y2="597.60" stroke="#000" stroke-width="3" />
<line x1="455.40" y1="587.20" x2="455.40" y2="602.70" stroke="#000" stroke-width="4" />
<line x1="495.08" y1="587.20" x2="495.08" y2="597.60" stroke="#000" stroke-width="3" />
<line x1="518.28" y1="587.20" x2="518.28" y2="597.60" stroke="#000" stroke-width="3" />
<line x1="534.75" y1="587.20" x2="534.75" y2="597.60" stroke="#000" stroke-width="3" />
<line x1="547.52" y1="587.20" x2="547.52" y2="597.60" stroke="#000" stroke-width="3" />
<line x1="557.96" y1="587.20" x2="557.96" y2="597.60" stroke="#000" stroke-width="3" />
<line x1="566.78" y1="587.20" x2="566.78" y2="597.60" stroke="#000" stroke-width="3" />
<line x1="574.43" y1="587.20" x2="574.43" y2="597.60" stroke="#000" stroke-width="3" />
<line x1="581.17" y1="587.20" x2="581.17" y2="597.60" stroke="#000" stroke-width="3" />
<line x1="587.20" y1="587.20" x2="587.20" y2="602.70" stroke="#000" stroke-width="4" />
<line x1="626.88" y1="587.20" x2="626.88" y2="597.60" stroke="#000" stroke-width="3" />
<line x1="650.08" y1="587.20" x2="650.08" y2="597.60" stroke="#000" stroke-width="3" />
<line x1="666.55" y1="587.20" x2="666.55" y2="597.60" stroke="#000" stroke-width="3" />
<line x1="679.32" y1="587.20" x2="679.32" y2="597.60" stroke="#000" stroke-width="3" />
<line x1="689.76" y1="587.20" x2="689.76" y2="597.60" stroke="#000" stroke-width="3" />
<line x1="698.58" y1="587.20" x2="698.58" y2="597.60" stroke="#000" stroke-width="3" />
<line x1="108.00" y1="587.20" x2="92.50" y2="587.20" stroke="#000" stroke-width="4" />
<line x1="108.00" y1="522.30" x2="97.60" y2="522.30" stroke="#000" stroke-width="3" />
<line x1="108.00" y1="484.33" x2="97.60" y2="484.33" stroke="#000" stroke-width="3" />
<line x1="108.00" y1="457.40" x2="97.60" y2="457.40" stroke="#000" stroke-width="3" />
<line x1="108.00" y1="436.50" x2="97.60" y2="436.50" stroke="#000" stroke-width="3" />
<line x1="108.00" y1="419.43" x2="97.60" y2="419.43" stroke="#000" stroke-width="3" />
<line x1="108.00" y1="405.00" x2="97.60" y2="405.00" stroke="#000" stroke-width="3" />
<line x1="108.00" y1="392.49" x2="97.60" y2="392.49" stroke="#000" stroke-width="3" />
<line x1="108.00" y1="381.47" x2="97.60" y2="381.47" stroke="#000" stroke-width="3" />
<line x1="108.00" y1="371.60" x2="92.50" y2="371.60" stroke="#000" stroke-width="4" />
<line x1="108.00" y1="306.70" x2="97.60" y2="306.70" stroke="#000" stroke-width="3" />
<line x1="108.00" y1="268.73" x2="97.60" y2="268.73" stroke="#000" stroke-width="3" />
<line x1="108.00" y1="241.80" x2="97.60" y2="241.80" stroke="#000" stroke-width="3" />
<line x1="108.00" y1="220.90" x2="97.60" y2="220.90" stroke="#000" stroke-width="3" />
<line x1="108.00" y1="203.83" x2="97.60" y2="203.83" stroke="#000" stroke-width="3" />
<line x1="108.00" y1="189.40" x2="97.60" y2="189.40" stroke="#000" stroke-width="3" />
<line x1="108.00" y1="176.89" x2="97.60" y2="176.89" stroke="#000" stroke-width="3" />
<line x1="108.00" y1="165.87" x2="97.60" y2="165.87" stroke="#000" stroke-width="3" />
<line x1="108.00" y1="156.00" x2="92.50" y2="156.00" stroke="#000" stroke-width="4" />
<line x1="108.00" y1="91.10" x2="97.60" y2="91.10" stroke="#000" stroke-width="3" />
<line x1="108.00" y1="53.13" x2="97.60" y2="53.13" stroke="#000" stroke-width="3" />
<line x1="108.00" y1="26.20" x2="97.60" y2="26.20" stroke="#000" stroke-width="3" />
<text x="168.12" y="636.70" font-size="29" font-family='"Liberation Sans", sans-serif' textLength="45.11" lengthAdjust="spacingAndGlyphs">10<tspan font-size="20.7" dy="-10.4">0</tspan></text>
<text x="299.91" y="636.70" font-size="29" font-family='"Liberation Sans", sans-serif' textLength="45.33" lengthAdjust="spacingAndGlyphs">10<tspan font-size="20.7" dy="-10.4">1</tspan></text>
<text x="431.71" y="636.70" font-size="29" font-family='"Liberation Sans", sans-serif' textLength="45.37" lengthAdjust="spacingAndGlyphs">10<tspan font-size="20.7" dy="-10.4">2</tspan></text>
<text x="563.52" y="636.70" font-size="29" font-family='"Liberation Sans", sans-serif' textLength="45.22" lengthAdjust="spacingAndGlyphs">10<tspan font-size="20.7" dy="-10.4">3</tspan></text>
<text x="34.31" y="597.70" font-size="29" font-family='"Liberation Sans", sans-serif' textLength="45.33" lengthAdjust="spacingAndGlyphs">10<tspan font-size="20.7" dy="-10.4">1</tspan></text>
<text x="34.31" y="382.10" font-size="29" font-family='"Liberation Sans", sans-serif' textLength="45.37" lengthAdjust="spacingAndGlyphs">10<tspan font-size="20.7" dy="-10.4">2</tspan></text>
<text x="34.32" y="166.50" font-size="29" font-family='"Liberation Sans", sans-serif' textLength="45.22" lengthAdjust="spacingAndGlyphs">10<tspan font-size="20.7" dy="-10.4">3</tspan></text>
<line x1="974.50" y1="214.60" x2="974.50" y2="232.80" stroke="#000" stroke-width="4" />
<line x1="974.50" y1="588.30" x2="974.50" y2="604.10" stroke="#000" stroke-width="4" />
<text x="966.59" y="634.60" font-size="29" font-family='"Liberation Sans", sans-serif' textLength="16.00" lengthAdjust="spacingAndGlyphs" >4</text>
<line x1="1059.52" y1="214.60" x2="1059.52" y2="232.80" stroke="#000" stroke-width="4" />
<line x1="1059.52" y1="588.30" x2="1059.52" y2="604.10" stroke="#000" stroke-width="4" />
<text x="1051.05" y="634.60" font-size="29" font-family='"Liberation Sans", sans-serif' textLength="17.01" lengthAdjust="spacingAndGlyphs" >5</text>
<line x1="1144.54" y1="214.60" x2="1144.54" y2="232.80" stroke="#000" stroke-width="4" />
<line x1="1144.54" y1="588.30" x2="1144.54" y2="604.10" stroke="#000" stroke-width="4" />
<text x="1135.69" y="634.60" font-size="29" font-family='"Liberation Sans", sans-serif' textLength="17.48" lengthAdjust="spacingAndGlyphs" >6</text>
<line x1="1229.56" y1="214.60" x2="1229.56" y2="232.80" stroke="#000" stroke-width="4" />
<line x1="1229.56" y1="588.30" x2="1229.56" y2="604.10" stroke="#000" stroke-width="4" />
<text x="1220.67" y="634.60" font-size="29" font-family='"Liberation Sans", sans-serif' textLength="17.74" lengthAdjust="spacingAndGlyphs" >7</text>
<line x1="1314.58" y1="214.60" x2="1314.58" y2="232.80" stroke="#000" stroke-width="4" />
<line x1="1314.58" y1="588.30" x2="1314.58" y2="604.10" stroke="#000" stroke-width="4" />
<text x="1305.99" y="634.60" font-size="29" font-family='"Liberation Sans", sans-serif' textLength="17.19" lengthAdjust="spacingAndGlyphs" >8</text>
<line x1="1399.60" y1="214.60" x2="1399.60" y2="232.80" stroke="#000" stroke-width="4" />
<line x1="1399.60" y1="588.30" x2="1399.60" y2="604.10" stroke="#000" stroke-width="4" />
<text x="1390.88" y="634.60" font-size="29" font-family='"Liberation Sans", sans-serif' textLength="17.46" lengthAdjust="spacingAndGlyphs" >9</text>
<line x1="1484.62" y1="214.60" x2="1484.62" y2="232.80" stroke="#000" stroke-width="4" />
<line x1="1484.62" y1="588.30" x2="1484.62" y2="604.10" stroke="#000" stroke-width="4" />
<text x="1467.79" y="634.60" font-size="29" font-family='"Liberation Sans", sans-serif' textLength="32.57" lengthAdjust="spacingAndGlyphs" >10</text>
<line x1="902.50" y1="210.60" x2="887.00" y2="210.60" stroke="#000" stroke-width="4" />
<text x="858.59" y="220.90" font-size="29" font-family='"Liberation Sans", sans-serif' textLength="17.22" lengthAdjust="spacingAndGlyphs" >0</text>
<line x1="902.50" y1="136.90" x2="887.00" y2="136.90" stroke="#000" stroke-width="4" />
<text x="808.58" y="147.20" font-size="29" font-family='"Liberation Sans", sans-serif' textLength="67.20" lengthAdjust="spacingAndGlyphs" >2000</text>
<line x1="902.50" y1="63.20" x2="887.00" y2="63.20" stroke="#000" stroke-width="4" />
<text x="809.42" y="73.50" font-size="29" font-family='"Liberation Sans", sans-serif' textLength="66.35" lengthAdjust="spacingAndGlyphs" >4000</text>
<line x1="902.50" y1="283.00" x2="887.00" y2="283.00" stroke="#000" stroke-width="4" />
<text x="817.85" y="293.30" font-size="29" font-family='"Liberation Sans", sans-serif' textLength="57.39" lengthAdjust="spacingAndGlyphs" >0.75</text>
<line x1="902.50" y1="339.65" x2="887.00" y2="339.65" stroke="#000" stroke-width="4" />
<text x="817.85" y="349.95" font-size="29" font-family='"Liberation Sans", sans-serif' textLength="57.30" lengthAdjust="spacingAndGlyphs" >0.50</text>
<line x1="902.50" y1="396.30" x2="887.00" y2="396.30" stroke="#000" stroke-width="4" />
<text x="817.85" y="406.60" font-size="29" font-family='"Liberation Sans", sans-serif' textLength="57.39" lengthAdjust="spacingAndGlyphs" >0.25</text>
<line x1="902.50" y1="452.95" x2="887.00" y2="452.95" stroke="#000" stroke-width="4" />
<text x="817.85" y="463.25" font-size="29" font-family='"Liberation Sans", sans-serif' textLength="57.30" lengthAdjust="spacingAndGlyphs" >0.00</text>
<line x1="902.50" y1="509.60" x2="887.00" y2="509.60" stroke="#000" stroke-width="4" />
<text x="796.06" y="519.90" font-size="29" font-family='"Liberation Sans", sans-serif' textLength="79.26" lengthAdjust="spacingAndGlyphs" >−0.25</text>
<line x1="902.50" y1="566.25" x2="887.00" y2="566.25" stroke="#000" stroke-width="4" />
<text x="796.06" y="576.55" font-size="29" font-family='"Liberation Sans", sans-serif' textLength="79.17" lengthAdjust="spacingAndGlyphs" >−0.50</text>
<text x="0.74" y="38.80" font-size="44" font-family='"Liberation Sans", sans-serif' textLength="22.01" lengthAdjust="spacingAndGlyphs" font-weight="bold" style="stroke-width:0">a</text>
<text x="757.51" y="30.50" font-size="43.5" font-family='"Liberation Sans", sans-serif' textLength="26.79" lengthAdjust="spacingAndGlyphs" font-weight="bold" style="stroke-width:0">b</text>
<text x="758.73" y="283.90" font-size="43" font-family='"Liberation Sans", sans-serif' textLength="23.83" lengthAdjust="spacingAndGlyphs" font-weight="bold" style="stroke-width:0">c</text>
<text x="235.79" y="667.20" font-size="29" font-family='"Liberation Sans", sans-serif' textLength="298.29" lengthAdjust="spacingAndGlyphs" >Cumulative incidences</text>
<text x="541.19" y="667.20" font-size="32" font-family='"Liberation Serif", serif' textLength="26.44" lengthAdjust="spacingAndGlyphs" font-style="italic" style="stroke-width:0.15px">C</text>
<text x="1152.01" y="662.00" font-size="31" font-family='"Liberation Serif", serif' textLength="16.91" lengthAdjust="spacingAndGlyphs" font-style="italic" style="stroke-width:0.15px">κ</text>
<text x="1176.17" y="662.00" font-size="29" font-family='"Liberation Sans", sans-serif' textLength="70.35" lengthAdjust="spacingAndGlyphs" >(kHz)</text>
<text transform="translate(24.20,471.39) rotate(-90)" x="0" y="0" font-size="29" font-family='"Liberation Sans", sans-serif' textLength="189.93" lengthAdjust="spacingAndGlyphs" >Incidence rate</text>
<text transform="translate(24.60,271.32) rotate(-90)" x="0" y="0" font-size="32" font-family='"Liberation Serif", serif' textLength="30.60" lengthAdjust="spacingAndGlyphs" font-style="italic" style="stroke-width:0.15px">C′</text>
<text transform="translate(23.90,231.07) rotate(-90)" x="0" y="0" font-size="29" font-family='"Liberation Sans", sans-serif' textLength="89.44" lengthAdjust="spacingAndGlyphs">(ms<tspan font-size="20.7" dy="-10.8">−1</tspan><tspan dy="10.8">)</tspan></text>
<text transform="translate(784.30,175.06) rotate(-90)" x="0" y="0" font-size="32" font-family='"Liberation Serif", serif' textLength="29.55" lengthAdjust="spacingAndGlyphs" font-style="italic" style="stroke-width:0.15px">C′</text>
<text transform="translate(783.90,140.20) rotate(-90)" x="0" y="0" font-size="29" font-family='"Liberation Sans", sans-serif' textLength="86.31" lengthAdjust="spacingAndGlyphs">(ms<tspan font-size="20.7" dy="-10.8">−1</tspan><tspan dy="10.8">)</tspan></text>
<text transform="translate(781.00,374.58) rotate(-90)" x="0" y="0" font-size="31" font-family='"Liberation Serif", serif' textLength="15.52" lengthAdjust="spacingAndGlyphs" font-style="italic" style="stroke-width:0.15px">p</text>
<text transform="translate(780.30,521.74) rotate(-90)" x="0" y="0" font-size="31" font-family='"Liberation Serif", serif' textLength="18.36" lengthAdjust="spacingAndGlyphs" font-style="italic" style="stroke-width:0.15px">α</text>
</svg></body></html>
